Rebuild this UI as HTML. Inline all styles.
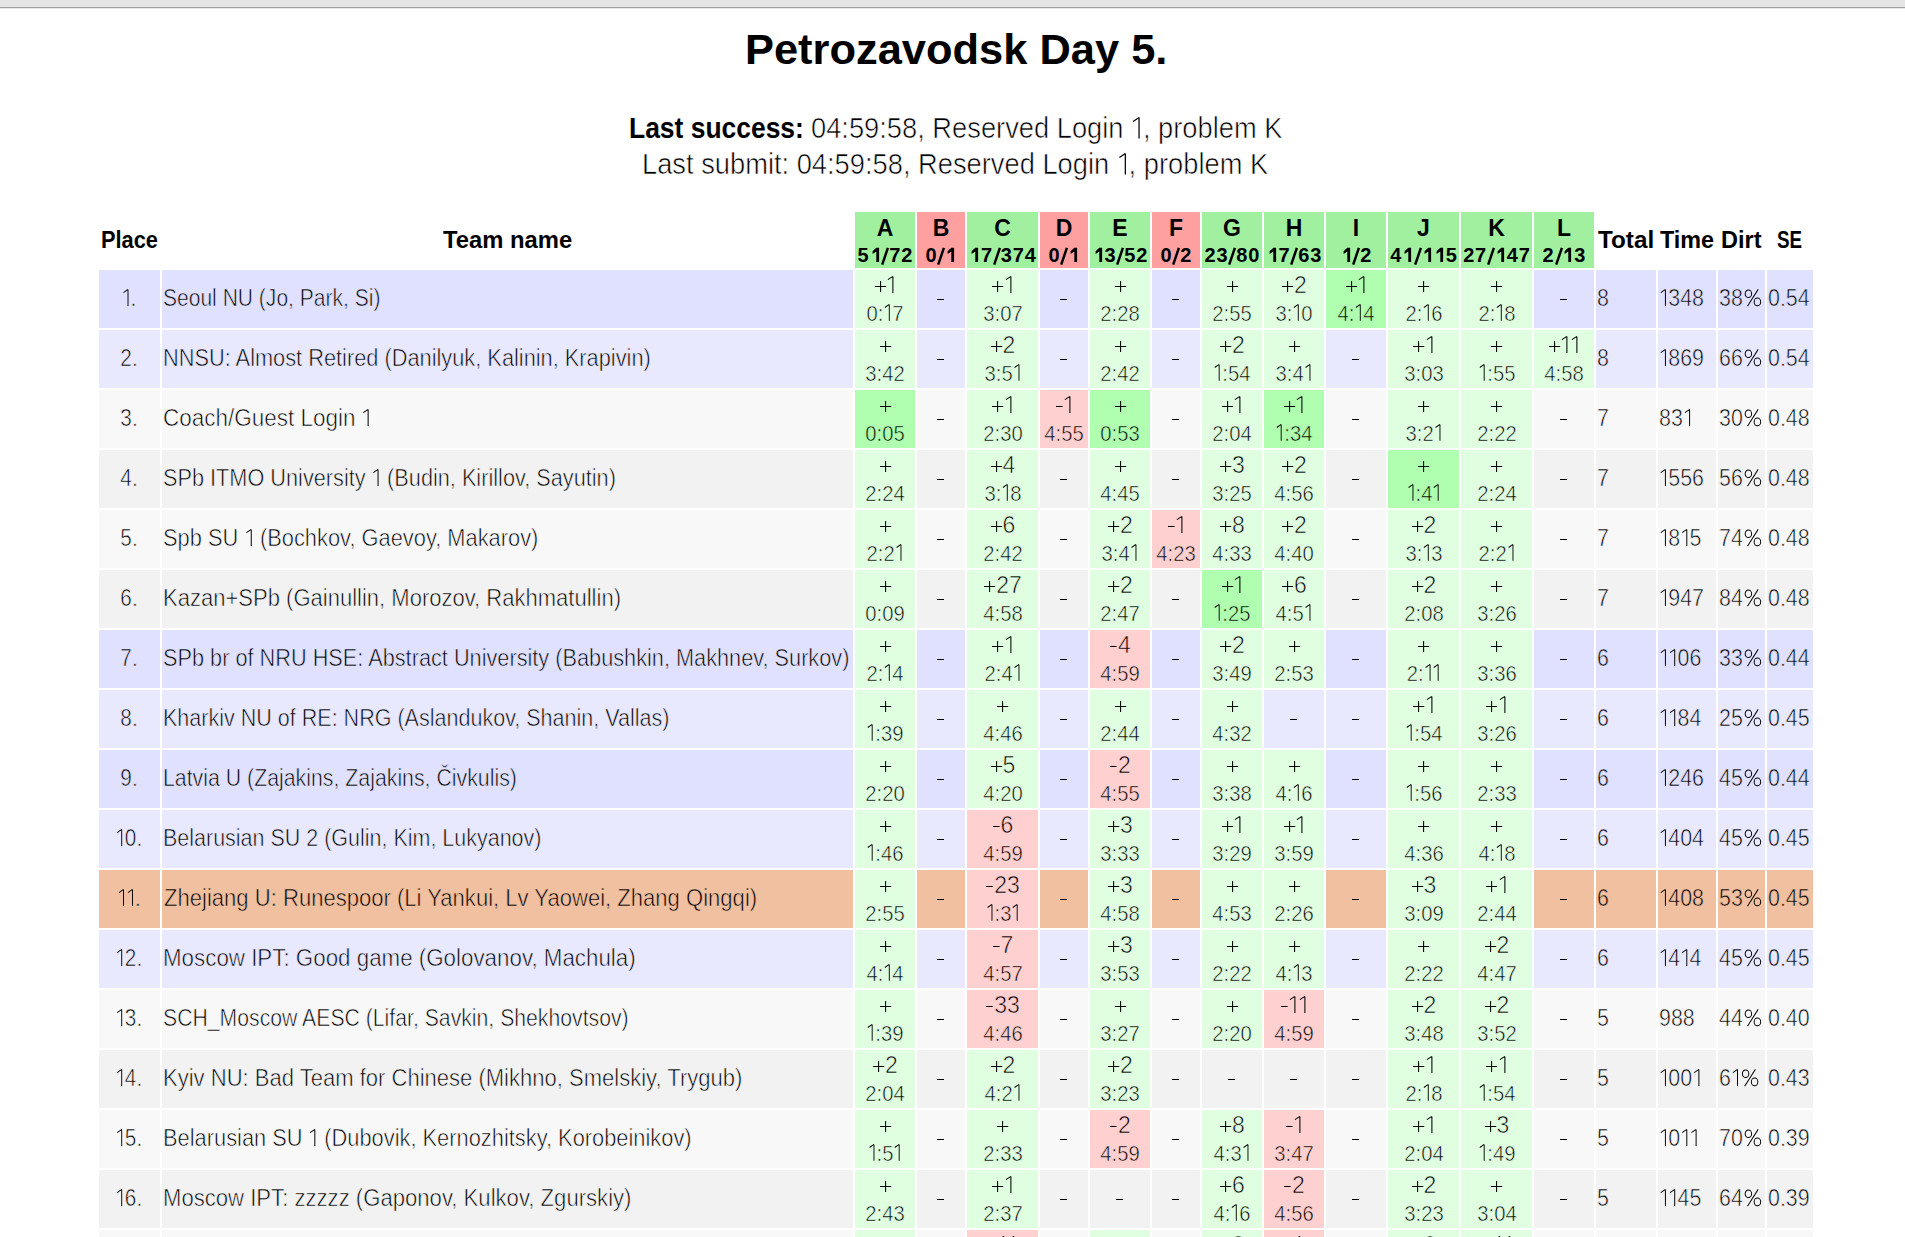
<!DOCTYPE html>
<html><head><meta charset="utf-8"><style>
html,body{margin:0;padding:0;background:#fff;width:1905px;height:1237px;overflow:hidden;position:relative}
body{font-family:"Liberation Sans",sans-serif;color:#000}
.topbar{position:absolute;left:0;top:0;width:1905px;height:6px;background:#e4e4e4}
.topbar2{position:absolute;left:0;top:6px;width:1905px;height:1px;background:#e8e8e8}
.topline{position:absolute;left:0;top:7px;width:1905px;height:1px;background:#a0a0a0}
.topline2{position:absolute;left:0;top:8px;width:1905px;height:1px;background:#e8e8e8}
.b{position:absolute}
.t{position:absolute;white-space:pre}
.t svg{overflow:visible}
.t svg path,.t svg ellipse{stroke:#000;stroke-width:1.05;fill:none}
.t svg path.f{stroke:none;fill:#000}
</style></head><body>
<div class="topbar"></div><div class="topbar2"></div><div class="topline"></div><div class="topline2"></div>
<div class="b" style="left:855px;top:212px;width:60px;height:56px;background:#a0f0a0"></div>
<div class="t" style="top:214.00px;font-size:23px;line-height:29px;font-weight:700;left:835.00px;width:100px;text-align:center;">A</div>
<div class="t" style="top:243.00px;font-size:20px;line-height:25px;font-weight:700;left:835.40px;width:100px;text-align:center;letter-spacing:0.8px;">5<svg width="11.9" height="15"><path class="f" d="M6.3 .8H9.1V15H6.3V4.6L2.6 6.9V4.3Z"/></svg><svg width="7.9" height="15"><path d="M1.2 17.6L6.9 .9" style="stroke-width:2.5"/></svg>72</div>
<div class="b" style="left:917px;top:212px;width:48px;height:56px;background:#ffa0a0"></div>
<div class="t" style="top:214.00px;font-size:23px;line-height:29px;font-weight:700;left:891.00px;width:100px;text-align:center;">B</div>
<div class="t" style="top:243.00px;font-size:20px;line-height:25px;font-weight:700;left:891.40px;width:100px;text-align:center;letter-spacing:0.8px;">0<svg width="7.9" height="15"><path d="M1.2 17.6L6.9 .9" style="stroke-width:2.5"/></svg><svg width="11.9" height="15"><path class="f" d="M6.3 .8H9.1V15H6.3V4.6L2.6 6.9V4.3Z"/></svg></div>
<div class="b" style="left:967px;top:212px;width:71px;height:56px;background:#a0f0a0"></div>
<div class="t" style="top:214.00px;font-size:23px;line-height:29px;font-weight:700;left:952.50px;width:100px;text-align:center;">C</div>
<div class="t" style="top:243.00px;font-size:20px;line-height:25px;font-weight:700;left:952.90px;width:100px;text-align:center;letter-spacing:0.8px;"><svg width="11.9" height="15"><path class="f" d="M6.3 .8H9.1V15H6.3V4.6L2.6 6.9V4.3Z"/></svg>7<svg width="7.9" height="15"><path d="M1.2 17.6L6.9 .9" style="stroke-width:2.5"/></svg>374</div>
<div class="b" style="left:1040px;top:212px;width:48px;height:56px;background:#ffa0a0"></div>
<div class="t" style="top:214.00px;font-size:23px;line-height:29px;font-weight:700;left:1014.00px;width:100px;text-align:center;">D</div>
<div class="t" style="top:243.00px;font-size:20px;line-height:25px;font-weight:700;left:1014.40px;width:100px;text-align:center;letter-spacing:0.8px;">0<svg width="7.9" height="15"><path d="M1.2 17.6L6.9 .9" style="stroke-width:2.5"/></svg><svg width="11.9" height="15"><path class="f" d="M6.3 .8H9.1V15H6.3V4.6L2.6 6.9V4.3Z"/></svg></div>
<div class="b" style="left:1090px;top:212px;width:60px;height:56px;background:#a0f0a0"></div>
<div class="t" style="top:214.00px;font-size:23px;line-height:29px;font-weight:700;left:1070.00px;width:100px;text-align:center;">E</div>
<div class="t" style="top:243.00px;font-size:20px;line-height:25px;font-weight:700;left:1070.40px;width:100px;text-align:center;letter-spacing:0.8px;"><svg width="11.9" height="15"><path class="f" d="M6.3 .8H9.1V15H6.3V4.6L2.6 6.9V4.3Z"/></svg>3<svg width="7.9" height="15"><path d="M1.2 17.6L6.9 .9" style="stroke-width:2.5"/></svg>52</div>
<div class="b" style="left:1152px;top:212px;width:48px;height:56px;background:#ffa0a0"></div>
<div class="t" style="top:214.00px;font-size:23px;line-height:29px;font-weight:700;left:1126.00px;width:100px;text-align:center;">F</div>
<div class="t" style="top:243.00px;font-size:20px;line-height:25px;font-weight:700;left:1126.40px;width:100px;text-align:center;letter-spacing:0.8px;">0<svg width="7.9" height="15"><path d="M1.2 17.6L6.9 .9" style="stroke-width:2.5"/></svg>2</div>
<div class="b" style="left:1202px;top:212px;width:60px;height:56px;background:#a0f0a0"></div>
<div class="t" style="top:214.00px;font-size:23px;line-height:29px;font-weight:700;left:1182.00px;width:100px;text-align:center;">G</div>
<div class="t" style="top:243.00px;font-size:20px;line-height:25px;font-weight:700;left:1182.40px;width:100px;text-align:center;letter-spacing:0.8px;">23<svg width="7.9" height="15"><path d="M1.2 17.6L6.9 .9" style="stroke-width:2.5"/></svg>80</div>
<div class="b" style="left:1264px;top:212px;width:60px;height:56px;background:#a0f0a0"></div>
<div class="t" style="top:214.00px;font-size:23px;line-height:29px;font-weight:700;left:1244.00px;width:100px;text-align:center;">H</div>
<div class="t" style="top:243.00px;font-size:20px;line-height:25px;font-weight:700;left:1244.40px;width:100px;text-align:center;letter-spacing:0.8px;"><svg width="11.9" height="15"><path class="f" d="M6.3 .8H9.1V15H6.3V4.6L2.6 6.9V4.3Z"/></svg>7<svg width="7.9" height="15"><path d="M1.2 17.6L6.9 .9" style="stroke-width:2.5"/></svg>63</div>
<div class="b" style="left:1326px;top:212px;width:60px;height:56px;background:#a0f0a0"></div>
<div class="t" style="top:214.00px;font-size:23px;line-height:29px;font-weight:700;left:1306.00px;width:100px;text-align:center;">I</div>
<div class="t" style="top:243.00px;font-size:20px;line-height:25px;font-weight:700;left:1306.40px;width:100px;text-align:center;letter-spacing:0.8px;"><svg width="11.9" height="15"><path class="f" d="M6.3 .8H9.1V15H6.3V4.6L2.6 6.9V4.3Z"/></svg><svg width="7.9" height="15"><path d="M1.2 17.6L6.9 .9" style="stroke-width:2.5"/></svg>2</div>
<div class="b" style="left:1388px;top:212px;width:71px;height:56px;background:#a0f0a0"></div>
<div class="t" style="top:214.00px;font-size:23px;line-height:29px;font-weight:700;left:1373.50px;width:100px;text-align:center;">J</div>
<div class="t" style="top:243.00px;font-size:20px;line-height:25px;font-weight:700;left:1373.90px;width:100px;text-align:center;letter-spacing:0.8px;">4<svg width="11.9" height="15"><path class="f" d="M6.3 .8H9.1V15H6.3V4.6L2.6 6.9V4.3Z"/></svg><svg width="7.9" height="15"><path d="M1.2 17.6L6.9 .9" style="stroke-width:2.5"/></svg><svg width="11.9" height="15"><path class="f" d="M6.3 .8H9.1V15H6.3V4.6L2.6 6.9V4.3Z"/></svg><svg width="11.9" height="15"><path class="f" d="M6.3 .8H9.1V15H6.3V4.6L2.6 6.9V4.3Z"/></svg>5</div>
<div class="b" style="left:1461px;top:212px;width:71px;height:56px;background:#a0f0a0"></div>
<div class="t" style="top:214.00px;font-size:23px;line-height:29px;font-weight:700;left:1446.50px;width:100px;text-align:center;">K</div>
<div class="t" style="top:243.00px;font-size:20px;line-height:25px;font-weight:700;left:1446.90px;width:100px;text-align:center;letter-spacing:0.8px;">27<svg width="7.9" height="15"><path d="M1.2 17.6L6.9 .9" style="stroke-width:2.5"/></svg><svg width="11.9" height="15"><path class="f" d="M6.3 .8H9.1V15H6.3V4.6L2.6 6.9V4.3Z"/></svg>47</div>
<div class="b" style="left:1534px;top:212px;width:60px;height:56px;background:#a0f0a0"></div>
<div class="t" style="top:214.00px;font-size:23px;line-height:29px;font-weight:700;left:1514.00px;width:100px;text-align:center;">L</div>
<div class="t" style="top:243.00px;font-size:20px;line-height:25px;font-weight:700;left:1514.40px;width:100px;text-align:center;letter-spacing:0.8px;">2<svg width="7.9" height="15"><path d="M1.2 17.6L6.9 .9" style="stroke-width:2.5"/></svg><svg width="11.9" height="15"><path class="f" d="M6.3 .8H9.1V15H6.3V4.6L2.6 6.9V4.3Z"/></svg>3</div>
<div class="b" style="left:99px;top:270px;width:61px;height:58px;background:#e0e0ff"></div>
<div class="b" style="left:162px;top:270px;width:691px;height:58px;background:#e0e0ff"></div>
<div class="b" style="left:1596px;top:270px;width:60px;height:58px;background:#e0e0ff"></div>
<div class="b" style="left:1658px;top:270px;width:58px;height:58px;background:#e0e0ff"></div>
<div class="b" style="left:1718px;top:270px;width:47px;height:58px;background:#e0e0ff"></div>
<div class="b" style="left:1767px;top:270px;width:46px;height:58px;background:#e0e0ff"></div>
<div class="t" style="top:284.00px;font-size:23px;line-height:29px;-webkit-text-stroke:0.6px #e0e0ff;left:78.70px;width:100px;text-align:center;transform:scaleX(0.9000);transform-origin:50% 0;"><svg style="width:.4348em;height:.7391em" viewBox="0 0 10 17"><path d="M6.9 .4V17M6.9 .4L1.9 3.6"/></svg>.</div>
<div class="b" style="left:855px;top:270px;width:60px;height:58px;background:#e0ffe0"></div>
<div class="t" style="top:271.00px;font-size:23px;line-height:29px;-webkit-text-stroke:0.6px #e0ffe0;left:845.00px;width:80px;text-align:center;"><svg style="width:.5652em;height:.7391em" viewBox="0 0 13 17"><path d="M1 10.5H12.2M6.6 5V16"/></svg><svg style="width:.4348em;height:.7391em" viewBox="0 0 10 17"><path d="M6.9 .4V17M6.9 .4L1.9 3.6"/></svg></div>
<div class="t" style="top:300.00px;font-size:22.5px;line-height:28px;-webkit-text-stroke:0.6px #e0ffe0;left:845.00px;width:80px;text-align:center;transform:scaleX(0.9000);transform-origin:50% 0;">0:<svg style="width:.4348em;height:.7391em" viewBox="0 0 10 17"><path d="M6.9 .4V17M6.9 .4L1.9 3.6"/></svg>7</div>
<div class="b" style="left:917px;top:270px;width:48px;height:58px;background:#e0e0ff"></div>
<div class="b" style="left:937px;top:299px;width:7px;height:1px;background:#000"></div>
<div class="b" style="left:967px;top:270px;width:71px;height:58px;background:#e0ffe0"></div>
<div class="t" style="top:271.00px;font-size:23px;line-height:29px;-webkit-text-stroke:0.6px #e0ffe0;left:962.50px;width:80px;text-align:center;"><svg style="width:.5652em;height:.7391em" viewBox="0 0 13 17"><path d="M1 10.5H12.2M6.6 5V16"/></svg><svg style="width:.4348em;height:.7391em" viewBox="0 0 10 17"><path d="M6.9 .4V17M6.9 .4L1.9 3.6"/></svg></div>
<div class="t" style="top:300.00px;font-size:22.5px;line-height:28px;-webkit-text-stroke:0.6px #e0ffe0;left:962.50px;width:80px;text-align:center;transform:scaleX(0.9000);transform-origin:50% 0;">3:07</div>
<div class="b" style="left:1040px;top:270px;width:48px;height:58px;background:#e0e0ff"></div>
<div class="b" style="left:1060px;top:299px;width:7px;height:1px;background:#000"></div>
<div class="b" style="left:1090px;top:270px;width:60px;height:58px;background:#e0ffe0"></div>
<div class="t" style="top:271.00px;font-size:23px;line-height:29px;-webkit-text-stroke:0.6px #e0ffe0;left:1080.00px;width:80px;text-align:center;"><svg style="width:.5652em;height:.7391em" viewBox="0 0 13 17"><path d="M1 10.5H12.2M6.6 5V16"/></svg></div>
<div class="t" style="top:300.00px;font-size:22.5px;line-height:28px;-webkit-text-stroke:0.6px #e0ffe0;left:1080.00px;width:80px;text-align:center;transform:scaleX(0.9000);transform-origin:50% 0;">2:28</div>
<div class="b" style="left:1152px;top:270px;width:48px;height:58px;background:#e0e0ff"></div>
<div class="b" style="left:1172px;top:299px;width:7px;height:1px;background:#000"></div>
<div class="b" style="left:1202px;top:270px;width:60px;height:58px;background:#e0ffe0"></div>
<div class="t" style="top:271.00px;font-size:23px;line-height:29px;-webkit-text-stroke:0.6px #e0ffe0;left:1192.00px;width:80px;text-align:center;"><svg style="width:.5652em;height:.7391em" viewBox="0 0 13 17"><path d="M1 10.5H12.2M6.6 5V16"/></svg></div>
<div class="t" style="top:300.00px;font-size:22.5px;line-height:28px;-webkit-text-stroke:0.6px #e0ffe0;left:1192.00px;width:80px;text-align:center;transform:scaleX(0.9000);transform-origin:50% 0;">2:55</div>
<div class="b" style="left:1264px;top:270px;width:60px;height:58px;background:#e0ffe0"></div>
<div class="t" style="top:271.00px;font-size:23px;line-height:29px;-webkit-text-stroke:0.6px #e0ffe0;left:1254.00px;width:80px;text-align:center;"><svg style="width:.5652em;height:.7391em" viewBox="0 0 13 17"><path d="M1 10.5H12.2M6.6 5V16"/></svg>2</div>
<div class="t" style="top:300.00px;font-size:22.5px;line-height:28px;-webkit-text-stroke:0.6px #e0ffe0;left:1254.00px;width:80px;text-align:center;transform:scaleX(0.9000);transform-origin:50% 0;">3:<svg style="width:.4348em;height:.7391em" viewBox="0 0 10 17"><path d="M6.9 .4V17M6.9 .4L1.9 3.6"/></svg>0</div>
<div class="b" style="left:1326px;top:270px;width:60px;height:58px;background:#b0ffb0"></div>
<div class="t" style="top:271.00px;font-size:23px;line-height:29px;-webkit-text-stroke:0.6px #b0ffb0;left:1316.00px;width:80px;text-align:center;"><svg style="width:.5652em;height:.7391em" viewBox="0 0 13 17"><path d="M1 10.5H12.2M6.6 5V16"/></svg><svg style="width:.4348em;height:.7391em" viewBox="0 0 10 17"><path d="M6.9 .4V17M6.9 .4L1.9 3.6"/></svg></div>
<div class="t" style="top:300.00px;font-size:22.5px;line-height:28px;-webkit-text-stroke:0.6px #b0ffb0;left:1316.00px;width:80px;text-align:center;transform:scaleX(0.9000);transform-origin:50% 0;">4:<svg style="width:.4348em;height:.7391em" viewBox="0 0 10 17"><path d="M6.9 .4V17M6.9 .4L1.9 3.6"/></svg>4</div>
<div class="b" style="left:1388px;top:270px;width:71px;height:58px;background:#e0ffe0"></div>
<div class="t" style="top:271.00px;font-size:23px;line-height:29px;-webkit-text-stroke:0.6px #e0ffe0;left:1383.50px;width:80px;text-align:center;"><svg style="width:.5652em;height:.7391em" viewBox="0 0 13 17"><path d="M1 10.5H12.2M6.6 5V16"/></svg></div>
<div class="t" style="top:300.00px;font-size:22.5px;line-height:28px;-webkit-text-stroke:0.6px #e0ffe0;left:1383.50px;width:80px;text-align:center;transform:scaleX(0.9000);transform-origin:50% 0;">2:<svg style="width:.4348em;height:.7391em" viewBox="0 0 10 17"><path d="M6.9 .4V17M6.9 .4L1.9 3.6"/></svg>6</div>
<div class="b" style="left:1461px;top:270px;width:71px;height:58px;background:#e0ffe0"></div>
<div class="t" style="top:271.00px;font-size:23px;line-height:29px;-webkit-text-stroke:0.6px #e0ffe0;left:1456.50px;width:80px;text-align:center;"><svg style="width:.5652em;height:.7391em" viewBox="0 0 13 17"><path d="M1 10.5H12.2M6.6 5V16"/></svg></div>
<div class="t" style="top:300.00px;font-size:22.5px;line-height:28px;-webkit-text-stroke:0.6px #e0ffe0;left:1456.50px;width:80px;text-align:center;transform:scaleX(0.9000);transform-origin:50% 0;">2:<svg style="width:.4348em;height:.7391em" viewBox="0 0 10 17"><path d="M6.9 .4V17M6.9 .4L1.9 3.6"/></svg>8</div>
<div class="b" style="left:1534px;top:270px;width:60px;height:58px;background:#e0e0ff"></div>
<div class="b" style="left:1560px;top:299px;width:7px;height:1px;background:#000"></div>
<div class="t" style="top:284.00px;font-size:23px;line-height:29px;-webkit-text-stroke:0.6px #e0e0ff;left:1597.00px;transform:scaleX(0.9300);transform-origin:0 0;">8</div>
<div class="t" style="top:284.00px;font-size:23px;line-height:29px;-webkit-text-stroke:0.6px #e0e0ff;left:1659.00px;transform:scaleX(0.9300);transform-origin:0 0;"><svg style="width:.4348em;height:.7391em" viewBox="0 0 10 17"><path d="M6.9 .4V17M6.9 .4L1.9 3.6"/></svg>348</div>
<div class="t" style="top:284.00px;font-size:23px;line-height:29px;-webkit-text-stroke:0.6px #e0e0ff;left:1719.00px;transform:scaleX(0.9300);transform-origin:0 0;">38<svg style="width:.913em;height:.7565em" viewBox="0 0 21 17.4"><ellipse cx="5.6" cy="4.8" rx="3.5" ry="3.8"/><ellipse cx="15.3" cy="12.9" rx="3.5" ry="3.8"/><path d="M4.6 17.2L16.1 .4"/></svg></div>
<div class="t" style="top:284.00px;font-size:23px;line-height:29px;-webkit-text-stroke:0.6px #e0e0ff;left:1768.00px;transform:scaleX(0.9300);transform-origin:0 0;">0.54</div>
<div class="b" style="left:99px;top:330px;width:61px;height:58px;background:#e8e8ff"></div>
<div class="b" style="left:162px;top:330px;width:691px;height:58px;background:#e8e8ff"></div>
<div class="b" style="left:1596px;top:330px;width:60px;height:58px;background:#e8e8ff"></div>
<div class="b" style="left:1658px;top:330px;width:58px;height:58px;background:#e8e8ff"></div>
<div class="b" style="left:1718px;top:330px;width:47px;height:58px;background:#e8e8ff"></div>
<div class="b" style="left:1767px;top:330px;width:46px;height:58px;background:#e8e8ff"></div>
<div class="t" style="top:344.00px;font-size:23px;line-height:29px;-webkit-text-stroke:0.6px #e8e8ff;left:78.70px;width:100px;text-align:center;transform:scaleX(0.9000);transform-origin:50% 0;">2.</div>
<div class="b" style="left:855px;top:330px;width:60px;height:58px;background:#e0ffe0"></div>
<div class="t" style="top:331.00px;font-size:23px;line-height:29px;-webkit-text-stroke:0.6px #e0ffe0;left:845.00px;width:80px;text-align:center;"><svg style="width:.5652em;height:.7391em" viewBox="0 0 13 17"><path d="M1 10.5H12.2M6.6 5V16"/></svg></div>
<div class="t" style="top:360.00px;font-size:22.5px;line-height:28px;-webkit-text-stroke:0.6px #e0ffe0;left:845.00px;width:80px;text-align:center;transform:scaleX(0.9000);transform-origin:50% 0;">3:42</div>
<div class="b" style="left:917px;top:330px;width:48px;height:58px;background:#e8e8ff"></div>
<div class="b" style="left:937px;top:359px;width:7px;height:1px;background:#000"></div>
<div class="b" style="left:967px;top:330px;width:71px;height:58px;background:#e0ffe0"></div>
<div class="t" style="top:331.00px;font-size:23px;line-height:29px;-webkit-text-stroke:0.6px #e0ffe0;left:962.50px;width:80px;text-align:center;"><svg style="width:.5652em;height:.7391em" viewBox="0 0 13 17"><path d="M1 10.5H12.2M6.6 5V16"/></svg>2</div>
<div class="t" style="top:360.00px;font-size:22.5px;line-height:28px;-webkit-text-stroke:0.6px #e0ffe0;left:962.50px;width:80px;text-align:center;transform:scaleX(0.9000);transform-origin:50% 0;">3:5<svg style="width:.4348em;height:.7391em" viewBox="0 0 10 17"><path d="M6.9 .4V17M6.9 .4L1.9 3.6"/></svg></div>
<div class="b" style="left:1040px;top:330px;width:48px;height:58px;background:#e8e8ff"></div>
<div class="b" style="left:1060px;top:359px;width:7px;height:1px;background:#000"></div>
<div class="b" style="left:1090px;top:330px;width:60px;height:58px;background:#e0ffe0"></div>
<div class="t" style="top:331.00px;font-size:23px;line-height:29px;-webkit-text-stroke:0.6px #e0ffe0;left:1080.00px;width:80px;text-align:center;"><svg style="width:.5652em;height:.7391em" viewBox="0 0 13 17"><path d="M1 10.5H12.2M6.6 5V16"/></svg></div>
<div class="t" style="top:360.00px;font-size:22.5px;line-height:28px;-webkit-text-stroke:0.6px #e0ffe0;left:1080.00px;width:80px;text-align:center;transform:scaleX(0.9000);transform-origin:50% 0;">2:42</div>
<div class="b" style="left:1152px;top:330px;width:48px;height:58px;background:#e8e8ff"></div>
<div class="b" style="left:1172px;top:359px;width:7px;height:1px;background:#000"></div>
<div class="b" style="left:1202px;top:330px;width:60px;height:58px;background:#e0ffe0"></div>
<div class="t" style="top:331.00px;font-size:23px;line-height:29px;-webkit-text-stroke:0.6px #e0ffe0;left:1192.00px;width:80px;text-align:center;"><svg style="width:.5652em;height:.7391em" viewBox="0 0 13 17"><path d="M1 10.5H12.2M6.6 5V16"/></svg>2</div>
<div class="t" style="top:360.00px;font-size:22.5px;line-height:28px;-webkit-text-stroke:0.6px #e0ffe0;left:1192.00px;width:80px;text-align:center;transform:scaleX(0.9000);transform-origin:50% 0;"><svg style="width:.4348em;height:.7391em" viewBox="0 0 10 17"><path d="M6.9 .4V17M6.9 .4L1.9 3.6"/></svg>:54</div>
<div class="b" style="left:1264px;top:330px;width:60px;height:58px;background:#e0ffe0"></div>
<div class="t" style="top:331.00px;font-size:23px;line-height:29px;-webkit-text-stroke:0.6px #e0ffe0;left:1254.00px;width:80px;text-align:center;"><svg style="width:.5652em;height:.7391em" viewBox="0 0 13 17"><path d="M1 10.5H12.2M6.6 5V16"/></svg></div>
<div class="t" style="top:360.00px;font-size:22.5px;line-height:28px;-webkit-text-stroke:0.6px #e0ffe0;left:1254.00px;width:80px;text-align:center;transform:scaleX(0.9000);transform-origin:50% 0;">3:4<svg style="width:.4348em;height:.7391em" viewBox="0 0 10 17"><path d="M6.9 .4V17M6.9 .4L1.9 3.6"/></svg></div>
<div class="b" style="left:1326px;top:330px;width:60px;height:58px;background:#e8e8ff"></div>
<div class="b" style="left:1352px;top:359px;width:7px;height:1px;background:#000"></div>
<div class="b" style="left:1388px;top:330px;width:71px;height:58px;background:#e0ffe0"></div>
<div class="t" style="top:331.00px;font-size:23px;line-height:29px;-webkit-text-stroke:0.6px #e0ffe0;left:1383.50px;width:80px;text-align:center;"><svg style="width:.5652em;height:.7391em" viewBox="0 0 13 17"><path d="M1 10.5H12.2M6.6 5V16"/></svg><svg style="width:.4348em;height:.7391em" viewBox="0 0 10 17"><path d="M6.9 .4V17M6.9 .4L1.9 3.6"/></svg></div>
<div class="t" style="top:360.00px;font-size:22.5px;line-height:28px;-webkit-text-stroke:0.6px #e0ffe0;left:1383.50px;width:80px;text-align:center;transform:scaleX(0.9000);transform-origin:50% 0;">3:03</div>
<div class="b" style="left:1461px;top:330px;width:71px;height:58px;background:#e0ffe0"></div>
<div class="t" style="top:331.00px;font-size:23px;line-height:29px;-webkit-text-stroke:0.6px #e0ffe0;left:1456.50px;width:80px;text-align:center;"><svg style="width:.5652em;height:.7391em" viewBox="0 0 13 17"><path d="M1 10.5H12.2M6.6 5V16"/></svg></div>
<div class="t" style="top:360.00px;font-size:22.5px;line-height:28px;-webkit-text-stroke:0.6px #e0ffe0;left:1456.50px;width:80px;text-align:center;transform:scaleX(0.9000);transform-origin:50% 0;"><svg style="width:.4348em;height:.7391em" viewBox="0 0 10 17"><path d="M6.9 .4V17M6.9 .4L1.9 3.6"/></svg>:55</div>
<div class="b" style="left:1534px;top:330px;width:60px;height:58px;background:#e0ffe0"></div>
<div class="t" style="top:331.00px;font-size:23px;line-height:29px;-webkit-text-stroke:0.6px #e0ffe0;left:1524.00px;width:80px;text-align:center;"><svg style="width:.5652em;height:.7391em" viewBox="0 0 13 17"><path d="M1 10.5H12.2M6.6 5V16"/></svg><svg style="width:.4348em;height:.7391em" viewBox="0 0 10 17"><path d="M6.9 .4V17M6.9 .4L1.9 3.6"/></svg><svg style="width:.4348em;height:.7391em" viewBox="0 0 10 17"><path d="M6.9 .4V17M6.9 .4L1.9 3.6"/></svg></div>
<div class="t" style="top:360.00px;font-size:22.5px;line-height:28px;-webkit-text-stroke:0.6px #e0ffe0;left:1524.00px;width:80px;text-align:center;transform:scaleX(0.9000);transform-origin:50% 0;">4:58</div>
<div class="t" style="top:344.00px;font-size:23px;line-height:29px;-webkit-text-stroke:0.6px #e8e8ff;left:1597.00px;transform:scaleX(0.9300);transform-origin:0 0;">8</div>
<div class="t" style="top:344.00px;font-size:23px;line-height:29px;-webkit-text-stroke:0.6px #e8e8ff;left:1659.00px;transform:scaleX(0.9300);transform-origin:0 0;"><svg style="width:.4348em;height:.7391em" viewBox="0 0 10 17"><path d="M6.9 .4V17M6.9 .4L1.9 3.6"/></svg>869</div>
<div class="t" style="top:344.00px;font-size:23px;line-height:29px;-webkit-text-stroke:0.6px #e8e8ff;left:1719.00px;transform:scaleX(0.9300);transform-origin:0 0;">66<svg style="width:.913em;height:.7565em" viewBox="0 0 21 17.4"><ellipse cx="5.6" cy="4.8" rx="3.5" ry="3.8"/><ellipse cx="15.3" cy="12.9" rx="3.5" ry="3.8"/><path d="M4.6 17.2L16.1 .4"/></svg></div>
<div class="t" style="top:344.00px;font-size:23px;line-height:29px;-webkit-text-stroke:0.6px #e8e8ff;left:1768.00px;transform:scaleX(0.9300);transform-origin:0 0;">0.54</div>
<div class="b" style="left:99px;top:390px;width:61px;height:58px;background:#f8f8f8"></div>
<div class="b" style="left:162px;top:390px;width:691px;height:58px;background:#f8f8f8"></div>
<div class="b" style="left:1596px;top:390px;width:60px;height:58px;background:#f8f8f8"></div>
<div class="b" style="left:1658px;top:390px;width:58px;height:58px;background:#f8f8f8"></div>
<div class="b" style="left:1718px;top:390px;width:47px;height:58px;background:#f8f8f8"></div>
<div class="b" style="left:1767px;top:390px;width:46px;height:58px;background:#f8f8f8"></div>
<div class="t" style="top:404.00px;font-size:23px;line-height:29px;-webkit-text-stroke:0.6px #f8f8f8;left:78.70px;width:100px;text-align:center;transform:scaleX(0.9000);transform-origin:50% 0;">3.</div>
<div class="b" style="left:855px;top:390px;width:60px;height:58px;background:#b0ffb0"></div>
<div class="t" style="top:391.00px;font-size:23px;line-height:29px;-webkit-text-stroke:0.6px #b0ffb0;left:845.00px;width:80px;text-align:center;"><svg style="width:.5652em;height:.7391em" viewBox="0 0 13 17"><path d="M1 10.5H12.2M6.6 5V16"/></svg></div>
<div class="t" style="top:420.00px;font-size:22.5px;line-height:28px;-webkit-text-stroke:0.6px #b0ffb0;left:845.00px;width:80px;text-align:center;transform:scaleX(0.9000);transform-origin:50% 0;">0:05</div>
<div class="b" style="left:917px;top:390px;width:48px;height:58px;background:#f8f8f8"></div>
<div class="b" style="left:937px;top:419px;width:7px;height:1px;background:#000"></div>
<div class="b" style="left:967px;top:390px;width:71px;height:58px;background:#e0ffe0"></div>
<div class="t" style="top:391.00px;font-size:23px;line-height:29px;-webkit-text-stroke:0.6px #e0ffe0;left:962.50px;width:80px;text-align:center;"><svg style="width:.5652em;height:.7391em" viewBox="0 0 13 17"><path d="M1 10.5H12.2M6.6 5V16"/></svg><svg style="width:.4348em;height:.7391em" viewBox="0 0 10 17"><path d="M6.9 .4V17M6.9 .4L1.9 3.6"/></svg></div>
<div class="t" style="top:420.00px;font-size:22.5px;line-height:28px;-webkit-text-stroke:0.6px #e0ffe0;left:962.50px;width:80px;text-align:center;transform:scaleX(0.9000);transform-origin:50% 0;">2:30</div>
<div class="b" style="left:1040px;top:390px;width:48px;height:58px;background:#ffd0d0"></div>
<div class="t" style="top:391.00px;font-size:23px;line-height:29px;-webkit-text-stroke:0.6px #ffd0d0;left:1024.00px;width:80px;text-align:center;"><svg style="width:.3913em;height:.7391em" viewBox="0 0 9 17"><path d="M1 10.5H7.6"/></svg><svg style="width:.4348em;height:.7391em" viewBox="0 0 10 17"><path d="M6.9 .4V17M6.9 .4L1.9 3.6"/></svg></div>
<div class="t" style="top:420.00px;font-size:22.5px;line-height:28px;-webkit-text-stroke:0.6px #ffd0d0;left:1024.00px;width:80px;text-align:center;transform:scaleX(0.9000);transform-origin:50% 0;">4:55</div>
<div class="b" style="left:1090px;top:390px;width:60px;height:58px;background:#b0ffb0"></div>
<div class="t" style="top:391.00px;font-size:23px;line-height:29px;-webkit-text-stroke:0.6px #b0ffb0;left:1080.00px;width:80px;text-align:center;"><svg style="width:.5652em;height:.7391em" viewBox="0 0 13 17"><path d="M1 10.5H12.2M6.6 5V16"/></svg></div>
<div class="t" style="top:420.00px;font-size:22.5px;line-height:28px;-webkit-text-stroke:0.6px #b0ffb0;left:1080.00px;width:80px;text-align:center;transform:scaleX(0.9000);transform-origin:50% 0;">0:53</div>
<div class="b" style="left:1152px;top:390px;width:48px;height:58px;background:#f8f8f8"></div>
<div class="b" style="left:1172px;top:419px;width:7px;height:1px;background:#000"></div>
<div class="b" style="left:1202px;top:390px;width:60px;height:58px;background:#e0ffe0"></div>
<div class="t" style="top:391.00px;font-size:23px;line-height:29px;-webkit-text-stroke:0.6px #e0ffe0;left:1192.00px;width:80px;text-align:center;"><svg style="width:.5652em;height:.7391em" viewBox="0 0 13 17"><path d="M1 10.5H12.2M6.6 5V16"/></svg><svg style="width:.4348em;height:.7391em" viewBox="0 0 10 17"><path d="M6.9 .4V17M6.9 .4L1.9 3.6"/></svg></div>
<div class="t" style="top:420.00px;font-size:22.5px;line-height:28px;-webkit-text-stroke:0.6px #e0ffe0;left:1192.00px;width:80px;text-align:center;transform:scaleX(0.9000);transform-origin:50% 0;">2:04</div>
<div class="b" style="left:1264px;top:390px;width:60px;height:58px;background:#b0ffb0"></div>
<div class="t" style="top:391.00px;font-size:23px;line-height:29px;-webkit-text-stroke:0.6px #b0ffb0;left:1254.00px;width:80px;text-align:center;"><svg style="width:.5652em;height:.7391em" viewBox="0 0 13 17"><path d="M1 10.5H12.2M6.6 5V16"/></svg><svg style="width:.4348em;height:.7391em" viewBox="0 0 10 17"><path d="M6.9 .4V17M6.9 .4L1.9 3.6"/></svg></div>
<div class="t" style="top:420.00px;font-size:22.5px;line-height:28px;-webkit-text-stroke:0.6px #b0ffb0;left:1254.00px;width:80px;text-align:center;transform:scaleX(0.9000);transform-origin:50% 0;"><svg style="width:.4348em;height:.7391em" viewBox="0 0 10 17"><path d="M6.9 .4V17M6.9 .4L1.9 3.6"/></svg>:34</div>
<div class="b" style="left:1326px;top:390px;width:60px;height:58px;background:#f8f8f8"></div>
<div class="b" style="left:1352px;top:419px;width:7px;height:1px;background:#000"></div>
<div class="b" style="left:1388px;top:390px;width:71px;height:58px;background:#e0ffe0"></div>
<div class="t" style="top:391.00px;font-size:23px;line-height:29px;-webkit-text-stroke:0.6px #e0ffe0;left:1383.50px;width:80px;text-align:center;"><svg style="width:.5652em;height:.7391em" viewBox="0 0 13 17"><path d="M1 10.5H12.2M6.6 5V16"/></svg></div>
<div class="t" style="top:420.00px;font-size:22.5px;line-height:28px;-webkit-text-stroke:0.6px #e0ffe0;left:1383.50px;width:80px;text-align:center;transform:scaleX(0.9000);transform-origin:50% 0;">3:2<svg style="width:.4348em;height:.7391em" viewBox="0 0 10 17"><path d="M6.9 .4V17M6.9 .4L1.9 3.6"/></svg></div>
<div class="b" style="left:1461px;top:390px;width:71px;height:58px;background:#e0ffe0"></div>
<div class="t" style="top:391.00px;font-size:23px;line-height:29px;-webkit-text-stroke:0.6px #e0ffe0;left:1456.50px;width:80px;text-align:center;"><svg style="width:.5652em;height:.7391em" viewBox="0 0 13 17"><path d="M1 10.5H12.2M6.6 5V16"/></svg></div>
<div class="t" style="top:420.00px;font-size:22.5px;line-height:28px;-webkit-text-stroke:0.6px #e0ffe0;left:1456.50px;width:80px;text-align:center;transform:scaleX(0.9000);transform-origin:50% 0;">2:22</div>
<div class="b" style="left:1534px;top:390px;width:60px;height:58px;background:#f8f8f8"></div>
<div class="b" style="left:1560px;top:419px;width:7px;height:1px;background:#000"></div>
<div class="t" style="top:404.00px;font-size:23px;line-height:29px;-webkit-text-stroke:0.6px #f8f8f8;left:1597.00px;transform:scaleX(0.9300);transform-origin:0 0;">7</div>
<div class="t" style="top:404.00px;font-size:23px;line-height:29px;-webkit-text-stroke:0.6px #f8f8f8;left:1659.00px;transform:scaleX(0.9300);transform-origin:0 0;">83<svg style="width:.4348em;height:.7391em" viewBox="0 0 10 17"><path d="M6.9 .4V17M6.9 .4L1.9 3.6"/></svg></div>
<div class="t" style="top:404.00px;font-size:23px;line-height:29px;-webkit-text-stroke:0.6px #f8f8f8;left:1719.00px;transform:scaleX(0.9300);transform-origin:0 0;">30<svg style="width:.913em;height:.7565em" viewBox="0 0 21 17.4"><ellipse cx="5.6" cy="4.8" rx="3.5" ry="3.8"/><ellipse cx="15.3" cy="12.9" rx="3.5" ry="3.8"/><path d="M4.6 17.2L16.1 .4"/></svg></div>
<div class="t" style="top:404.00px;font-size:23px;line-height:29px;-webkit-text-stroke:0.6px #f8f8f8;left:1768.00px;transform:scaleX(0.9300);transform-origin:0 0;">0.48</div>
<div class="b" style="left:99px;top:450px;width:61px;height:58px;background:#f2f2f2"></div>
<div class="b" style="left:162px;top:450px;width:691px;height:58px;background:#f2f2f2"></div>
<div class="b" style="left:1596px;top:450px;width:60px;height:58px;background:#f2f2f2"></div>
<div class="b" style="left:1658px;top:450px;width:58px;height:58px;background:#f2f2f2"></div>
<div class="b" style="left:1718px;top:450px;width:47px;height:58px;background:#f2f2f2"></div>
<div class="b" style="left:1767px;top:450px;width:46px;height:58px;background:#f2f2f2"></div>
<div class="t" style="top:464.00px;font-size:23px;line-height:29px;-webkit-text-stroke:0.6px #f2f2f2;left:78.70px;width:100px;text-align:center;transform:scaleX(0.9000);transform-origin:50% 0;">4.</div>
<div class="b" style="left:855px;top:450px;width:60px;height:58px;background:#e0ffe0"></div>
<div class="t" style="top:451.00px;font-size:23px;line-height:29px;-webkit-text-stroke:0.6px #e0ffe0;left:845.00px;width:80px;text-align:center;"><svg style="width:.5652em;height:.7391em" viewBox="0 0 13 17"><path d="M1 10.5H12.2M6.6 5V16"/></svg></div>
<div class="t" style="top:480.00px;font-size:22.5px;line-height:28px;-webkit-text-stroke:0.6px #e0ffe0;left:845.00px;width:80px;text-align:center;transform:scaleX(0.9000);transform-origin:50% 0;">2:24</div>
<div class="b" style="left:917px;top:450px;width:48px;height:58px;background:#f2f2f2"></div>
<div class="b" style="left:937px;top:479px;width:7px;height:1px;background:#000"></div>
<div class="b" style="left:967px;top:450px;width:71px;height:58px;background:#e0ffe0"></div>
<div class="t" style="top:451.00px;font-size:23px;line-height:29px;-webkit-text-stroke:0.6px #e0ffe0;left:962.50px;width:80px;text-align:center;"><svg style="width:.5652em;height:.7391em" viewBox="0 0 13 17"><path d="M1 10.5H12.2M6.6 5V16"/></svg>4</div>
<div class="t" style="top:480.00px;font-size:22.5px;line-height:28px;-webkit-text-stroke:0.6px #e0ffe0;left:962.50px;width:80px;text-align:center;transform:scaleX(0.9000);transform-origin:50% 0;">3:<svg style="width:.4348em;height:.7391em" viewBox="0 0 10 17"><path d="M6.9 .4V17M6.9 .4L1.9 3.6"/></svg>8</div>
<div class="b" style="left:1040px;top:450px;width:48px;height:58px;background:#f2f2f2"></div>
<div class="b" style="left:1060px;top:479px;width:7px;height:1px;background:#000"></div>
<div class="b" style="left:1090px;top:450px;width:60px;height:58px;background:#e0ffe0"></div>
<div class="t" style="top:451.00px;font-size:23px;line-height:29px;-webkit-text-stroke:0.6px #e0ffe0;left:1080.00px;width:80px;text-align:center;"><svg style="width:.5652em;height:.7391em" viewBox="0 0 13 17"><path d="M1 10.5H12.2M6.6 5V16"/></svg></div>
<div class="t" style="top:480.00px;font-size:22.5px;line-height:28px;-webkit-text-stroke:0.6px #e0ffe0;left:1080.00px;width:80px;text-align:center;transform:scaleX(0.9000);transform-origin:50% 0;">4:45</div>
<div class="b" style="left:1152px;top:450px;width:48px;height:58px;background:#f2f2f2"></div>
<div class="b" style="left:1172px;top:479px;width:7px;height:1px;background:#000"></div>
<div class="b" style="left:1202px;top:450px;width:60px;height:58px;background:#e0ffe0"></div>
<div class="t" style="top:451.00px;font-size:23px;line-height:29px;-webkit-text-stroke:0.6px #e0ffe0;left:1192.00px;width:80px;text-align:center;"><svg style="width:.5652em;height:.7391em" viewBox="0 0 13 17"><path d="M1 10.5H12.2M6.6 5V16"/></svg>3</div>
<div class="t" style="top:480.00px;font-size:22.5px;line-height:28px;-webkit-text-stroke:0.6px #e0ffe0;left:1192.00px;width:80px;text-align:center;transform:scaleX(0.9000);transform-origin:50% 0;">3:25</div>
<div class="b" style="left:1264px;top:450px;width:60px;height:58px;background:#e0ffe0"></div>
<div class="t" style="top:451.00px;font-size:23px;line-height:29px;-webkit-text-stroke:0.6px #e0ffe0;left:1254.00px;width:80px;text-align:center;"><svg style="width:.5652em;height:.7391em" viewBox="0 0 13 17"><path d="M1 10.5H12.2M6.6 5V16"/></svg>2</div>
<div class="t" style="top:480.00px;font-size:22.5px;line-height:28px;-webkit-text-stroke:0.6px #e0ffe0;left:1254.00px;width:80px;text-align:center;transform:scaleX(0.9000);transform-origin:50% 0;">4:56</div>
<div class="b" style="left:1326px;top:450px;width:60px;height:58px;background:#f2f2f2"></div>
<div class="b" style="left:1352px;top:479px;width:7px;height:1px;background:#000"></div>
<div class="b" style="left:1388px;top:450px;width:71px;height:58px;background:#b0ffb0"></div>
<div class="t" style="top:451.00px;font-size:23px;line-height:29px;-webkit-text-stroke:0.6px #b0ffb0;left:1383.50px;width:80px;text-align:center;"><svg style="width:.5652em;height:.7391em" viewBox="0 0 13 17"><path d="M1 10.5H12.2M6.6 5V16"/></svg></div>
<div class="t" style="top:480.00px;font-size:22.5px;line-height:28px;-webkit-text-stroke:0.6px #b0ffb0;left:1383.50px;width:80px;text-align:center;transform:scaleX(0.9000);transform-origin:50% 0;"><svg style="width:.4348em;height:.7391em" viewBox="0 0 10 17"><path d="M6.9 .4V17M6.9 .4L1.9 3.6"/></svg>:4<svg style="width:.4348em;height:.7391em" viewBox="0 0 10 17"><path d="M6.9 .4V17M6.9 .4L1.9 3.6"/></svg></div>
<div class="b" style="left:1461px;top:450px;width:71px;height:58px;background:#e0ffe0"></div>
<div class="t" style="top:451.00px;font-size:23px;line-height:29px;-webkit-text-stroke:0.6px #e0ffe0;left:1456.50px;width:80px;text-align:center;"><svg style="width:.5652em;height:.7391em" viewBox="0 0 13 17"><path d="M1 10.5H12.2M6.6 5V16"/></svg></div>
<div class="t" style="top:480.00px;font-size:22.5px;line-height:28px;-webkit-text-stroke:0.6px #e0ffe0;left:1456.50px;width:80px;text-align:center;transform:scaleX(0.9000);transform-origin:50% 0;">2:24</div>
<div class="b" style="left:1534px;top:450px;width:60px;height:58px;background:#f2f2f2"></div>
<div class="b" style="left:1560px;top:479px;width:7px;height:1px;background:#000"></div>
<div class="t" style="top:464.00px;font-size:23px;line-height:29px;-webkit-text-stroke:0.6px #f2f2f2;left:1597.00px;transform:scaleX(0.9300);transform-origin:0 0;">7</div>
<div class="t" style="top:464.00px;font-size:23px;line-height:29px;-webkit-text-stroke:0.6px #f2f2f2;left:1659.00px;transform:scaleX(0.9300);transform-origin:0 0;"><svg style="width:.4348em;height:.7391em" viewBox="0 0 10 17"><path d="M6.9 .4V17M6.9 .4L1.9 3.6"/></svg>556</div>
<div class="t" style="top:464.00px;font-size:23px;line-height:29px;-webkit-text-stroke:0.6px #f2f2f2;left:1719.00px;transform:scaleX(0.9300);transform-origin:0 0;">56<svg style="width:.913em;height:.7565em" viewBox="0 0 21 17.4"><ellipse cx="5.6" cy="4.8" rx="3.5" ry="3.8"/><ellipse cx="15.3" cy="12.9" rx="3.5" ry="3.8"/><path d="M4.6 17.2L16.1 .4"/></svg></div>
<div class="t" style="top:464.00px;font-size:23px;line-height:29px;-webkit-text-stroke:0.6px #f2f2f2;left:1768.00px;transform:scaleX(0.9300);transform-origin:0 0;">0.48</div>
<div class="b" style="left:99px;top:510px;width:61px;height:58px;background:#f8f8f8"></div>
<div class="b" style="left:162px;top:510px;width:691px;height:58px;background:#f8f8f8"></div>
<div class="b" style="left:1596px;top:510px;width:60px;height:58px;background:#f8f8f8"></div>
<div class="b" style="left:1658px;top:510px;width:58px;height:58px;background:#f8f8f8"></div>
<div class="b" style="left:1718px;top:510px;width:47px;height:58px;background:#f8f8f8"></div>
<div class="b" style="left:1767px;top:510px;width:46px;height:58px;background:#f8f8f8"></div>
<div class="t" style="top:524.00px;font-size:23px;line-height:29px;-webkit-text-stroke:0.6px #f8f8f8;left:78.70px;width:100px;text-align:center;transform:scaleX(0.9000);transform-origin:50% 0;">5.</div>
<div class="b" style="left:855px;top:510px;width:60px;height:58px;background:#e0ffe0"></div>
<div class="t" style="top:511.00px;font-size:23px;line-height:29px;-webkit-text-stroke:0.6px #e0ffe0;left:845.00px;width:80px;text-align:center;"><svg style="width:.5652em;height:.7391em" viewBox="0 0 13 17"><path d="M1 10.5H12.2M6.6 5V16"/></svg></div>
<div class="t" style="top:540.00px;font-size:22.5px;line-height:28px;-webkit-text-stroke:0.6px #e0ffe0;left:845.00px;width:80px;text-align:center;transform:scaleX(0.9000);transform-origin:50% 0;">2:2<svg style="width:.4348em;height:.7391em" viewBox="0 0 10 17"><path d="M6.9 .4V17M6.9 .4L1.9 3.6"/></svg></div>
<div class="b" style="left:917px;top:510px;width:48px;height:58px;background:#f8f8f8"></div>
<div class="b" style="left:937px;top:539px;width:7px;height:1px;background:#000"></div>
<div class="b" style="left:967px;top:510px;width:71px;height:58px;background:#e0ffe0"></div>
<div class="t" style="top:511.00px;font-size:23px;line-height:29px;-webkit-text-stroke:0.6px #e0ffe0;left:962.50px;width:80px;text-align:center;"><svg style="width:.5652em;height:.7391em" viewBox="0 0 13 17"><path d="M1 10.5H12.2M6.6 5V16"/></svg>6</div>
<div class="t" style="top:540.00px;font-size:22.5px;line-height:28px;-webkit-text-stroke:0.6px #e0ffe0;left:962.50px;width:80px;text-align:center;transform:scaleX(0.9000);transform-origin:50% 0;">2:42</div>
<div class="b" style="left:1040px;top:510px;width:48px;height:58px;background:#f8f8f8"></div>
<div class="b" style="left:1060px;top:539px;width:7px;height:1px;background:#000"></div>
<div class="b" style="left:1090px;top:510px;width:60px;height:58px;background:#e0ffe0"></div>
<div class="t" style="top:511.00px;font-size:23px;line-height:29px;-webkit-text-stroke:0.6px #e0ffe0;left:1080.00px;width:80px;text-align:center;"><svg style="width:.5652em;height:.7391em" viewBox="0 0 13 17"><path d="M1 10.5H12.2M6.6 5V16"/></svg>2</div>
<div class="t" style="top:540.00px;font-size:22.5px;line-height:28px;-webkit-text-stroke:0.6px #e0ffe0;left:1080.00px;width:80px;text-align:center;transform:scaleX(0.9000);transform-origin:50% 0;">3:4<svg style="width:.4348em;height:.7391em" viewBox="0 0 10 17"><path d="M6.9 .4V17M6.9 .4L1.9 3.6"/></svg></div>
<div class="b" style="left:1152px;top:510px;width:48px;height:58px;background:#ffd0d0"></div>
<div class="t" style="top:511.00px;font-size:23px;line-height:29px;-webkit-text-stroke:0.6px #ffd0d0;left:1136.00px;width:80px;text-align:center;"><svg style="width:.3913em;height:.7391em" viewBox="0 0 9 17"><path d="M1 10.5H7.6"/></svg><svg style="width:.4348em;height:.7391em" viewBox="0 0 10 17"><path d="M6.9 .4V17M6.9 .4L1.9 3.6"/></svg></div>
<div class="t" style="top:540.00px;font-size:22.5px;line-height:28px;-webkit-text-stroke:0.6px #ffd0d0;left:1136.00px;width:80px;text-align:center;transform:scaleX(0.9000);transform-origin:50% 0;">4:23</div>
<div class="b" style="left:1202px;top:510px;width:60px;height:58px;background:#e0ffe0"></div>
<div class="t" style="top:511.00px;font-size:23px;line-height:29px;-webkit-text-stroke:0.6px #e0ffe0;left:1192.00px;width:80px;text-align:center;"><svg style="width:.5652em;height:.7391em" viewBox="0 0 13 17"><path d="M1 10.5H12.2M6.6 5V16"/></svg>8</div>
<div class="t" style="top:540.00px;font-size:22.5px;line-height:28px;-webkit-text-stroke:0.6px #e0ffe0;left:1192.00px;width:80px;text-align:center;transform:scaleX(0.9000);transform-origin:50% 0;">4:33</div>
<div class="b" style="left:1264px;top:510px;width:60px;height:58px;background:#e0ffe0"></div>
<div class="t" style="top:511.00px;font-size:23px;line-height:29px;-webkit-text-stroke:0.6px #e0ffe0;left:1254.00px;width:80px;text-align:center;"><svg style="width:.5652em;height:.7391em" viewBox="0 0 13 17"><path d="M1 10.5H12.2M6.6 5V16"/></svg>2</div>
<div class="t" style="top:540.00px;font-size:22.5px;line-height:28px;-webkit-text-stroke:0.6px #e0ffe0;left:1254.00px;width:80px;text-align:center;transform:scaleX(0.9000);transform-origin:50% 0;">4:40</div>
<div class="b" style="left:1326px;top:510px;width:60px;height:58px;background:#f8f8f8"></div>
<div class="b" style="left:1352px;top:539px;width:7px;height:1px;background:#000"></div>
<div class="b" style="left:1388px;top:510px;width:71px;height:58px;background:#e0ffe0"></div>
<div class="t" style="top:511.00px;font-size:23px;line-height:29px;-webkit-text-stroke:0.6px #e0ffe0;left:1383.50px;width:80px;text-align:center;"><svg style="width:.5652em;height:.7391em" viewBox="0 0 13 17"><path d="M1 10.5H12.2M6.6 5V16"/></svg>2</div>
<div class="t" style="top:540.00px;font-size:22.5px;line-height:28px;-webkit-text-stroke:0.6px #e0ffe0;left:1383.50px;width:80px;text-align:center;transform:scaleX(0.9000);transform-origin:50% 0;">3:<svg style="width:.4348em;height:.7391em" viewBox="0 0 10 17"><path d="M6.9 .4V17M6.9 .4L1.9 3.6"/></svg>3</div>
<div class="b" style="left:1461px;top:510px;width:71px;height:58px;background:#e0ffe0"></div>
<div class="t" style="top:511.00px;font-size:23px;line-height:29px;-webkit-text-stroke:0.6px #e0ffe0;left:1456.50px;width:80px;text-align:center;"><svg style="width:.5652em;height:.7391em" viewBox="0 0 13 17"><path d="M1 10.5H12.2M6.6 5V16"/></svg></div>
<div class="t" style="top:540.00px;font-size:22.5px;line-height:28px;-webkit-text-stroke:0.6px #e0ffe0;left:1456.50px;width:80px;text-align:center;transform:scaleX(0.9000);transform-origin:50% 0;">2:2<svg style="width:.4348em;height:.7391em" viewBox="0 0 10 17"><path d="M6.9 .4V17M6.9 .4L1.9 3.6"/></svg></div>
<div class="b" style="left:1534px;top:510px;width:60px;height:58px;background:#f8f8f8"></div>
<div class="b" style="left:1560px;top:539px;width:7px;height:1px;background:#000"></div>
<div class="t" style="top:524.00px;font-size:23px;line-height:29px;-webkit-text-stroke:0.6px #f8f8f8;left:1597.00px;transform:scaleX(0.9300);transform-origin:0 0;">7</div>
<div class="t" style="top:524.00px;font-size:23px;line-height:29px;-webkit-text-stroke:0.6px #f8f8f8;left:1659.00px;transform:scaleX(0.9300);transform-origin:0 0;"><svg style="width:.4348em;height:.7391em" viewBox="0 0 10 17"><path d="M6.9 .4V17M6.9 .4L1.9 3.6"/></svg>8<svg style="width:.4348em;height:.7391em" viewBox="0 0 10 17"><path d="M6.9 .4V17M6.9 .4L1.9 3.6"/></svg>5</div>
<div class="t" style="top:524.00px;font-size:23px;line-height:29px;-webkit-text-stroke:0.6px #f8f8f8;left:1719.00px;transform:scaleX(0.9300);transform-origin:0 0;">74<svg style="width:.913em;height:.7565em" viewBox="0 0 21 17.4"><ellipse cx="5.6" cy="4.8" rx="3.5" ry="3.8"/><ellipse cx="15.3" cy="12.9" rx="3.5" ry="3.8"/><path d="M4.6 17.2L16.1 .4"/></svg></div>
<div class="t" style="top:524.00px;font-size:23px;line-height:29px;-webkit-text-stroke:0.6px #f8f8f8;left:1768.00px;transform:scaleX(0.9300);transform-origin:0 0;">0.48</div>
<div class="b" style="left:99px;top:570px;width:61px;height:58px;background:#f2f2f2"></div>
<div class="b" style="left:162px;top:570px;width:691px;height:58px;background:#f2f2f2"></div>
<div class="b" style="left:1596px;top:570px;width:60px;height:58px;background:#f2f2f2"></div>
<div class="b" style="left:1658px;top:570px;width:58px;height:58px;background:#f2f2f2"></div>
<div class="b" style="left:1718px;top:570px;width:47px;height:58px;background:#f2f2f2"></div>
<div class="b" style="left:1767px;top:570px;width:46px;height:58px;background:#f2f2f2"></div>
<div class="t" style="top:584.00px;font-size:23px;line-height:29px;-webkit-text-stroke:0.6px #f2f2f2;left:78.70px;width:100px;text-align:center;transform:scaleX(0.9000);transform-origin:50% 0;">6.</div>
<div class="b" style="left:855px;top:570px;width:60px;height:58px;background:#e0ffe0"></div>
<div class="t" style="top:571.00px;font-size:23px;line-height:29px;-webkit-text-stroke:0.6px #e0ffe0;left:845.00px;width:80px;text-align:center;"><svg style="width:.5652em;height:.7391em" viewBox="0 0 13 17"><path d="M1 10.5H12.2M6.6 5V16"/></svg></div>
<div class="t" style="top:600.00px;font-size:22.5px;line-height:28px;-webkit-text-stroke:0.6px #e0ffe0;left:845.00px;width:80px;text-align:center;transform:scaleX(0.9000);transform-origin:50% 0;">0:09</div>
<div class="b" style="left:917px;top:570px;width:48px;height:58px;background:#f2f2f2"></div>
<div class="b" style="left:937px;top:599px;width:7px;height:1px;background:#000"></div>
<div class="b" style="left:967px;top:570px;width:71px;height:58px;background:#e0ffe0"></div>
<div class="t" style="top:571.00px;font-size:23px;line-height:29px;-webkit-text-stroke:0.6px #e0ffe0;left:962.50px;width:80px;text-align:center;"><svg style="width:.5652em;height:.7391em" viewBox="0 0 13 17"><path d="M1 10.5H12.2M6.6 5V16"/></svg>27</div>
<div class="t" style="top:600.00px;font-size:22.5px;line-height:28px;-webkit-text-stroke:0.6px #e0ffe0;left:962.50px;width:80px;text-align:center;transform:scaleX(0.9000);transform-origin:50% 0;">4:58</div>
<div class="b" style="left:1040px;top:570px;width:48px;height:58px;background:#f2f2f2"></div>
<div class="b" style="left:1060px;top:599px;width:7px;height:1px;background:#000"></div>
<div class="b" style="left:1090px;top:570px;width:60px;height:58px;background:#e0ffe0"></div>
<div class="t" style="top:571.00px;font-size:23px;line-height:29px;-webkit-text-stroke:0.6px #e0ffe0;left:1080.00px;width:80px;text-align:center;"><svg style="width:.5652em;height:.7391em" viewBox="0 0 13 17"><path d="M1 10.5H12.2M6.6 5V16"/></svg>2</div>
<div class="t" style="top:600.00px;font-size:22.5px;line-height:28px;-webkit-text-stroke:0.6px #e0ffe0;left:1080.00px;width:80px;text-align:center;transform:scaleX(0.9000);transform-origin:50% 0;">2:47</div>
<div class="b" style="left:1152px;top:570px;width:48px;height:58px;background:#f2f2f2"></div>
<div class="b" style="left:1172px;top:599px;width:7px;height:1px;background:#000"></div>
<div class="b" style="left:1202px;top:570px;width:60px;height:58px;background:#b0ffb0"></div>
<div class="t" style="top:571.00px;font-size:23px;line-height:29px;-webkit-text-stroke:0.6px #b0ffb0;left:1192.00px;width:80px;text-align:center;"><svg style="width:.5652em;height:.7391em" viewBox="0 0 13 17"><path d="M1 10.5H12.2M6.6 5V16"/></svg><svg style="width:.4348em;height:.7391em" viewBox="0 0 10 17"><path d="M6.9 .4V17M6.9 .4L1.9 3.6"/></svg></div>
<div class="t" style="top:600.00px;font-size:22.5px;line-height:28px;-webkit-text-stroke:0.6px #b0ffb0;left:1192.00px;width:80px;text-align:center;transform:scaleX(0.9000);transform-origin:50% 0;"><svg style="width:.4348em;height:.7391em" viewBox="0 0 10 17"><path d="M6.9 .4V17M6.9 .4L1.9 3.6"/></svg>:25</div>
<div class="b" style="left:1264px;top:570px;width:60px;height:58px;background:#e0ffe0"></div>
<div class="t" style="top:571.00px;font-size:23px;line-height:29px;-webkit-text-stroke:0.6px #e0ffe0;left:1254.00px;width:80px;text-align:center;"><svg style="width:.5652em;height:.7391em" viewBox="0 0 13 17"><path d="M1 10.5H12.2M6.6 5V16"/></svg>6</div>
<div class="t" style="top:600.00px;font-size:22.5px;line-height:28px;-webkit-text-stroke:0.6px #e0ffe0;left:1254.00px;width:80px;text-align:center;transform:scaleX(0.9000);transform-origin:50% 0;">4:5<svg style="width:.4348em;height:.7391em" viewBox="0 0 10 17"><path d="M6.9 .4V17M6.9 .4L1.9 3.6"/></svg></div>
<div class="b" style="left:1326px;top:570px;width:60px;height:58px;background:#f2f2f2"></div>
<div class="b" style="left:1352px;top:599px;width:7px;height:1px;background:#000"></div>
<div class="b" style="left:1388px;top:570px;width:71px;height:58px;background:#e0ffe0"></div>
<div class="t" style="top:571.00px;font-size:23px;line-height:29px;-webkit-text-stroke:0.6px #e0ffe0;left:1383.50px;width:80px;text-align:center;"><svg style="width:.5652em;height:.7391em" viewBox="0 0 13 17"><path d="M1 10.5H12.2M6.6 5V16"/></svg>2</div>
<div class="t" style="top:600.00px;font-size:22.5px;line-height:28px;-webkit-text-stroke:0.6px #e0ffe0;left:1383.50px;width:80px;text-align:center;transform:scaleX(0.9000);transform-origin:50% 0;">2:08</div>
<div class="b" style="left:1461px;top:570px;width:71px;height:58px;background:#e0ffe0"></div>
<div class="t" style="top:571.00px;font-size:23px;line-height:29px;-webkit-text-stroke:0.6px #e0ffe0;left:1456.50px;width:80px;text-align:center;"><svg style="width:.5652em;height:.7391em" viewBox="0 0 13 17"><path d="M1 10.5H12.2M6.6 5V16"/></svg></div>
<div class="t" style="top:600.00px;font-size:22.5px;line-height:28px;-webkit-text-stroke:0.6px #e0ffe0;left:1456.50px;width:80px;text-align:center;transform:scaleX(0.9000);transform-origin:50% 0;">3:26</div>
<div class="b" style="left:1534px;top:570px;width:60px;height:58px;background:#f2f2f2"></div>
<div class="b" style="left:1560px;top:599px;width:7px;height:1px;background:#000"></div>
<div class="t" style="top:584.00px;font-size:23px;line-height:29px;-webkit-text-stroke:0.6px #f2f2f2;left:1597.00px;transform:scaleX(0.9300);transform-origin:0 0;">7</div>
<div class="t" style="top:584.00px;font-size:23px;line-height:29px;-webkit-text-stroke:0.6px #f2f2f2;left:1659.00px;transform:scaleX(0.9300);transform-origin:0 0;"><svg style="width:.4348em;height:.7391em" viewBox="0 0 10 17"><path d="M6.9 .4V17M6.9 .4L1.9 3.6"/></svg>947</div>
<div class="t" style="top:584.00px;font-size:23px;line-height:29px;-webkit-text-stroke:0.6px #f2f2f2;left:1719.00px;transform:scaleX(0.9300);transform-origin:0 0;">84<svg style="width:.913em;height:.7565em" viewBox="0 0 21 17.4"><ellipse cx="5.6" cy="4.8" rx="3.5" ry="3.8"/><ellipse cx="15.3" cy="12.9" rx="3.5" ry="3.8"/><path d="M4.6 17.2L16.1 .4"/></svg></div>
<div class="t" style="top:584.00px;font-size:23px;line-height:29px;-webkit-text-stroke:0.6px #f2f2f2;left:1768.00px;transform:scaleX(0.9300);transform-origin:0 0;">0.48</div>
<div class="b" style="left:99px;top:630px;width:61px;height:58px;background:#e0e0ff"></div>
<div class="b" style="left:162px;top:630px;width:691px;height:58px;background:#e0e0ff"></div>
<div class="b" style="left:1596px;top:630px;width:60px;height:58px;background:#e0e0ff"></div>
<div class="b" style="left:1658px;top:630px;width:58px;height:58px;background:#e0e0ff"></div>
<div class="b" style="left:1718px;top:630px;width:47px;height:58px;background:#e0e0ff"></div>
<div class="b" style="left:1767px;top:630px;width:46px;height:58px;background:#e0e0ff"></div>
<div class="t" style="top:644.00px;font-size:23px;line-height:29px;-webkit-text-stroke:0.6px #e0e0ff;left:78.70px;width:100px;text-align:center;transform:scaleX(0.9000);transform-origin:50% 0;">7.</div>
<div class="b" style="left:855px;top:630px;width:60px;height:58px;background:#e0ffe0"></div>
<div class="t" style="top:631.00px;font-size:23px;line-height:29px;-webkit-text-stroke:0.6px #e0ffe0;left:845.00px;width:80px;text-align:center;"><svg style="width:.5652em;height:.7391em" viewBox="0 0 13 17"><path d="M1 10.5H12.2M6.6 5V16"/></svg></div>
<div class="t" style="top:660.00px;font-size:22.5px;line-height:28px;-webkit-text-stroke:0.6px #e0ffe0;left:845.00px;width:80px;text-align:center;transform:scaleX(0.9000);transform-origin:50% 0;">2:<svg style="width:.4348em;height:.7391em" viewBox="0 0 10 17"><path d="M6.9 .4V17M6.9 .4L1.9 3.6"/></svg>4</div>
<div class="b" style="left:917px;top:630px;width:48px;height:58px;background:#e0e0ff"></div>
<div class="b" style="left:937px;top:659px;width:7px;height:1px;background:#000"></div>
<div class="b" style="left:967px;top:630px;width:71px;height:58px;background:#e0ffe0"></div>
<div class="t" style="top:631.00px;font-size:23px;line-height:29px;-webkit-text-stroke:0.6px #e0ffe0;left:962.50px;width:80px;text-align:center;"><svg style="width:.5652em;height:.7391em" viewBox="0 0 13 17"><path d="M1 10.5H12.2M6.6 5V16"/></svg><svg style="width:.4348em;height:.7391em" viewBox="0 0 10 17"><path d="M6.9 .4V17M6.9 .4L1.9 3.6"/></svg></div>
<div class="t" style="top:660.00px;font-size:22.5px;line-height:28px;-webkit-text-stroke:0.6px #e0ffe0;left:962.50px;width:80px;text-align:center;transform:scaleX(0.9000);transform-origin:50% 0;">2:4<svg style="width:.4348em;height:.7391em" viewBox="0 0 10 17"><path d="M6.9 .4V17M6.9 .4L1.9 3.6"/></svg></div>
<div class="b" style="left:1040px;top:630px;width:48px;height:58px;background:#e0e0ff"></div>
<div class="b" style="left:1060px;top:659px;width:7px;height:1px;background:#000"></div>
<div class="b" style="left:1090px;top:630px;width:60px;height:58px;background:#ffd0d0"></div>
<div class="t" style="top:631.00px;font-size:23px;line-height:29px;-webkit-text-stroke:0.6px #ffd0d0;left:1080.00px;width:80px;text-align:center;"><svg style="width:.3913em;height:.7391em" viewBox="0 0 9 17"><path d="M1 10.5H7.6"/></svg>4</div>
<div class="t" style="top:660.00px;font-size:22.5px;line-height:28px;-webkit-text-stroke:0.6px #ffd0d0;left:1080.00px;width:80px;text-align:center;transform:scaleX(0.9000);transform-origin:50% 0;">4:59</div>
<div class="b" style="left:1152px;top:630px;width:48px;height:58px;background:#e0e0ff"></div>
<div class="b" style="left:1172px;top:659px;width:7px;height:1px;background:#000"></div>
<div class="b" style="left:1202px;top:630px;width:60px;height:58px;background:#e0ffe0"></div>
<div class="t" style="top:631.00px;font-size:23px;line-height:29px;-webkit-text-stroke:0.6px #e0ffe0;left:1192.00px;width:80px;text-align:center;"><svg style="width:.5652em;height:.7391em" viewBox="0 0 13 17"><path d="M1 10.5H12.2M6.6 5V16"/></svg>2</div>
<div class="t" style="top:660.00px;font-size:22.5px;line-height:28px;-webkit-text-stroke:0.6px #e0ffe0;left:1192.00px;width:80px;text-align:center;transform:scaleX(0.9000);transform-origin:50% 0;">3:49</div>
<div class="b" style="left:1264px;top:630px;width:60px;height:58px;background:#e0ffe0"></div>
<div class="t" style="top:631.00px;font-size:23px;line-height:29px;-webkit-text-stroke:0.6px #e0ffe0;left:1254.00px;width:80px;text-align:center;"><svg style="width:.5652em;height:.7391em" viewBox="0 0 13 17"><path d="M1 10.5H12.2M6.6 5V16"/></svg></div>
<div class="t" style="top:660.00px;font-size:22.5px;line-height:28px;-webkit-text-stroke:0.6px #e0ffe0;left:1254.00px;width:80px;text-align:center;transform:scaleX(0.9000);transform-origin:50% 0;">2:53</div>
<div class="b" style="left:1326px;top:630px;width:60px;height:58px;background:#e0e0ff"></div>
<div class="b" style="left:1352px;top:659px;width:7px;height:1px;background:#000"></div>
<div class="b" style="left:1388px;top:630px;width:71px;height:58px;background:#e0ffe0"></div>
<div class="t" style="top:631.00px;font-size:23px;line-height:29px;-webkit-text-stroke:0.6px #e0ffe0;left:1383.50px;width:80px;text-align:center;"><svg style="width:.5652em;height:.7391em" viewBox="0 0 13 17"><path d="M1 10.5H12.2M6.6 5V16"/></svg></div>
<div class="t" style="top:660.00px;font-size:22.5px;line-height:28px;-webkit-text-stroke:0.6px #e0ffe0;left:1383.50px;width:80px;text-align:center;transform:scaleX(0.9000);transform-origin:50% 0;">2:<svg style="width:.4348em;height:.7391em" viewBox="0 0 10 17"><path d="M6.9 .4V17M6.9 .4L1.9 3.6"/></svg><svg style="width:.4348em;height:.7391em" viewBox="0 0 10 17"><path d="M6.9 .4V17M6.9 .4L1.9 3.6"/></svg></div>
<div class="b" style="left:1461px;top:630px;width:71px;height:58px;background:#e0ffe0"></div>
<div class="t" style="top:631.00px;font-size:23px;line-height:29px;-webkit-text-stroke:0.6px #e0ffe0;left:1456.50px;width:80px;text-align:center;"><svg style="width:.5652em;height:.7391em" viewBox="0 0 13 17"><path d="M1 10.5H12.2M6.6 5V16"/></svg></div>
<div class="t" style="top:660.00px;font-size:22.5px;line-height:28px;-webkit-text-stroke:0.6px #e0ffe0;left:1456.50px;width:80px;text-align:center;transform:scaleX(0.9000);transform-origin:50% 0;">3:36</div>
<div class="b" style="left:1534px;top:630px;width:60px;height:58px;background:#e0e0ff"></div>
<div class="b" style="left:1560px;top:659px;width:7px;height:1px;background:#000"></div>
<div class="t" style="top:644.00px;font-size:23px;line-height:29px;-webkit-text-stroke:0.6px #e0e0ff;left:1597.00px;transform:scaleX(0.9300);transform-origin:0 0;">6</div>
<div class="t" style="top:644.00px;font-size:23px;line-height:29px;-webkit-text-stroke:0.6px #e0e0ff;left:1659.00px;transform:scaleX(0.9300);transform-origin:0 0;"><svg style="width:.4348em;height:.7391em" viewBox="0 0 10 17"><path d="M6.9 .4V17M6.9 .4L1.9 3.6"/></svg><svg style="width:.4348em;height:.7391em" viewBox="0 0 10 17"><path d="M6.9 .4V17M6.9 .4L1.9 3.6"/></svg>06</div>
<div class="t" style="top:644.00px;font-size:23px;line-height:29px;-webkit-text-stroke:0.6px #e0e0ff;left:1719.00px;transform:scaleX(0.9300);transform-origin:0 0;">33<svg style="width:.913em;height:.7565em" viewBox="0 0 21 17.4"><ellipse cx="5.6" cy="4.8" rx="3.5" ry="3.8"/><ellipse cx="15.3" cy="12.9" rx="3.5" ry="3.8"/><path d="M4.6 17.2L16.1 .4"/></svg></div>
<div class="t" style="top:644.00px;font-size:23px;line-height:29px;-webkit-text-stroke:0.6px #e0e0ff;left:1768.00px;transform:scaleX(0.9300);transform-origin:0 0;">0.44</div>
<div class="b" style="left:99px;top:690px;width:61px;height:58px;background:#e8e8ff"></div>
<div class="b" style="left:162px;top:690px;width:691px;height:58px;background:#e8e8ff"></div>
<div class="b" style="left:1596px;top:690px;width:60px;height:58px;background:#e8e8ff"></div>
<div class="b" style="left:1658px;top:690px;width:58px;height:58px;background:#e8e8ff"></div>
<div class="b" style="left:1718px;top:690px;width:47px;height:58px;background:#e8e8ff"></div>
<div class="b" style="left:1767px;top:690px;width:46px;height:58px;background:#e8e8ff"></div>
<div class="t" style="top:704.00px;font-size:23px;line-height:29px;-webkit-text-stroke:0.6px #e8e8ff;left:78.70px;width:100px;text-align:center;transform:scaleX(0.9000);transform-origin:50% 0;">8.</div>
<div class="b" style="left:855px;top:690px;width:60px;height:58px;background:#e0ffe0"></div>
<div class="t" style="top:691.00px;font-size:23px;line-height:29px;-webkit-text-stroke:0.6px #e0ffe0;left:845.00px;width:80px;text-align:center;"><svg style="width:.5652em;height:.7391em" viewBox="0 0 13 17"><path d="M1 10.5H12.2M6.6 5V16"/></svg></div>
<div class="t" style="top:720.00px;font-size:22.5px;line-height:28px;-webkit-text-stroke:0.6px #e0ffe0;left:845.00px;width:80px;text-align:center;transform:scaleX(0.9000);transform-origin:50% 0;"><svg style="width:.4348em;height:.7391em" viewBox="0 0 10 17"><path d="M6.9 .4V17M6.9 .4L1.9 3.6"/></svg>:39</div>
<div class="b" style="left:917px;top:690px;width:48px;height:58px;background:#e8e8ff"></div>
<div class="b" style="left:937px;top:719px;width:7px;height:1px;background:#000"></div>
<div class="b" style="left:967px;top:690px;width:71px;height:58px;background:#e0ffe0"></div>
<div class="t" style="top:691.00px;font-size:23px;line-height:29px;-webkit-text-stroke:0.6px #e0ffe0;left:962.50px;width:80px;text-align:center;"><svg style="width:.5652em;height:.7391em" viewBox="0 0 13 17"><path d="M1 10.5H12.2M6.6 5V16"/></svg></div>
<div class="t" style="top:720.00px;font-size:22.5px;line-height:28px;-webkit-text-stroke:0.6px #e0ffe0;left:962.50px;width:80px;text-align:center;transform:scaleX(0.9000);transform-origin:50% 0;">4:46</div>
<div class="b" style="left:1040px;top:690px;width:48px;height:58px;background:#e8e8ff"></div>
<div class="b" style="left:1060px;top:719px;width:7px;height:1px;background:#000"></div>
<div class="b" style="left:1090px;top:690px;width:60px;height:58px;background:#e0ffe0"></div>
<div class="t" style="top:691.00px;font-size:23px;line-height:29px;-webkit-text-stroke:0.6px #e0ffe0;left:1080.00px;width:80px;text-align:center;"><svg style="width:.5652em;height:.7391em" viewBox="0 0 13 17"><path d="M1 10.5H12.2M6.6 5V16"/></svg></div>
<div class="t" style="top:720.00px;font-size:22.5px;line-height:28px;-webkit-text-stroke:0.6px #e0ffe0;left:1080.00px;width:80px;text-align:center;transform:scaleX(0.9000);transform-origin:50% 0;">2:44</div>
<div class="b" style="left:1152px;top:690px;width:48px;height:58px;background:#e8e8ff"></div>
<div class="b" style="left:1172px;top:719px;width:7px;height:1px;background:#000"></div>
<div class="b" style="left:1202px;top:690px;width:60px;height:58px;background:#e0ffe0"></div>
<div class="t" style="top:691.00px;font-size:23px;line-height:29px;-webkit-text-stroke:0.6px #e0ffe0;left:1192.00px;width:80px;text-align:center;"><svg style="width:.5652em;height:.7391em" viewBox="0 0 13 17"><path d="M1 10.5H12.2M6.6 5V16"/></svg></div>
<div class="t" style="top:720.00px;font-size:22.5px;line-height:28px;-webkit-text-stroke:0.6px #e0ffe0;left:1192.00px;width:80px;text-align:center;transform:scaleX(0.9000);transform-origin:50% 0;">4:32</div>
<div class="b" style="left:1264px;top:690px;width:60px;height:58px;background:#e8e8ff"></div>
<div class="b" style="left:1290px;top:719px;width:7px;height:1px;background:#000"></div>
<div class="b" style="left:1326px;top:690px;width:60px;height:58px;background:#e8e8ff"></div>
<div class="b" style="left:1352px;top:719px;width:7px;height:1px;background:#000"></div>
<div class="b" style="left:1388px;top:690px;width:71px;height:58px;background:#e0ffe0"></div>
<div class="t" style="top:691.00px;font-size:23px;line-height:29px;-webkit-text-stroke:0.6px #e0ffe0;left:1383.50px;width:80px;text-align:center;"><svg style="width:.5652em;height:.7391em" viewBox="0 0 13 17"><path d="M1 10.5H12.2M6.6 5V16"/></svg><svg style="width:.4348em;height:.7391em" viewBox="0 0 10 17"><path d="M6.9 .4V17M6.9 .4L1.9 3.6"/></svg></div>
<div class="t" style="top:720.00px;font-size:22.5px;line-height:28px;-webkit-text-stroke:0.6px #e0ffe0;left:1383.50px;width:80px;text-align:center;transform:scaleX(0.9000);transform-origin:50% 0;"><svg style="width:.4348em;height:.7391em" viewBox="0 0 10 17"><path d="M6.9 .4V17M6.9 .4L1.9 3.6"/></svg>:54</div>
<div class="b" style="left:1461px;top:690px;width:71px;height:58px;background:#e0ffe0"></div>
<div class="t" style="top:691.00px;font-size:23px;line-height:29px;-webkit-text-stroke:0.6px #e0ffe0;left:1456.50px;width:80px;text-align:center;"><svg style="width:.5652em;height:.7391em" viewBox="0 0 13 17"><path d="M1 10.5H12.2M6.6 5V16"/></svg><svg style="width:.4348em;height:.7391em" viewBox="0 0 10 17"><path d="M6.9 .4V17M6.9 .4L1.9 3.6"/></svg></div>
<div class="t" style="top:720.00px;font-size:22.5px;line-height:28px;-webkit-text-stroke:0.6px #e0ffe0;left:1456.50px;width:80px;text-align:center;transform:scaleX(0.9000);transform-origin:50% 0;">3:26</div>
<div class="b" style="left:1534px;top:690px;width:60px;height:58px;background:#e8e8ff"></div>
<div class="b" style="left:1560px;top:719px;width:7px;height:1px;background:#000"></div>
<div class="t" style="top:704.00px;font-size:23px;line-height:29px;-webkit-text-stroke:0.6px #e8e8ff;left:1597.00px;transform:scaleX(0.9300);transform-origin:0 0;">6</div>
<div class="t" style="top:704.00px;font-size:23px;line-height:29px;-webkit-text-stroke:0.6px #e8e8ff;left:1659.00px;transform:scaleX(0.9300);transform-origin:0 0;"><svg style="width:.4348em;height:.7391em" viewBox="0 0 10 17"><path d="M6.9 .4V17M6.9 .4L1.9 3.6"/></svg><svg style="width:.4348em;height:.7391em" viewBox="0 0 10 17"><path d="M6.9 .4V17M6.9 .4L1.9 3.6"/></svg>84</div>
<div class="t" style="top:704.00px;font-size:23px;line-height:29px;-webkit-text-stroke:0.6px #e8e8ff;left:1719.00px;transform:scaleX(0.9300);transform-origin:0 0;">25<svg style="width:.913em;height:.7565em" viewBox="0 0 21 17.4"><ellipse cx="5.6" cy="4.8" rx="3.5" ry="3.8"/><ellipse cx="15.3" cy="12.9" rx="3.5" ry="3.8"/><path d="M4.6 17.2L16.1 .4"/></svg></div>
<div class="t" style="top:704.00px;font-size:23px;line-height:29px;-webkit-text-stroke:0.6px #e8e8ff;left:1768.00px;transform:scaleX(0.9300);transform-origin:0 0;">0.45</div>
<div class="b" style="left:99px;top:750px;width:61px;height:58px;background:#e0e0ff"></div>
<div class="b" style="left:162px;top:750px;width:691px;height:58px;background:#e0e0ff"></div>
<div class="b" style="left:1596px;top:750px;width:60px;height:58px;background:#e0e0ff"></div>
<div class="b" style="left:1658px;top:750px;width:58px;height:58px;background:#e0e0ff"></div>
<div class="b" style="left:1718px;top:750px;width:47px;height:58px;background:#e0e0ff"></div>
<div class="b" style="left:1767px;top:750px;width:46px;height:58px;background:#e0e0ff"></div>
<div class="t" style="top:764.00px;font-size:23px;line-height:29px;-webkit-text-stroke:0.6px #e0e0ff;left:78.70px;width:100px;text-align:center;transform:scaleX(0.9000);transform-origin:50% 0;">9.</div>
<div class="b" style="left:855px;top:750px;width:60px;height:58px;background:#e0ffe0"></div>
<div class="t" style="top:751.00px;font-size:23px;line-height:29px;-webkit-text-stroke:0.6px #e0ffe0;left:845.00px;width:80px;text-align:center;"><svg style="width:.5652em;height:.7391em" viewBox="0 0 13 17"><path d="M1 10.5H12.2M6.6 5V16"/></svg></div>
<div class="t" style="top:780.00px;font-size:22.5px;line-height:28px;-webkit-text-stroke:0.6px #e0ffe0;left:845.00px;width:80px;text-align:center;transform:scaleX(0.9000);transform-origin:50% 0;">2:20</div>
<div class="b" style="left:917px;top:750px;width:48px;height:58px;background:#e0e0ff"></div>
<div class="b" style="left:937px;top:779px;width:7px;height:1px;background:#000"></div>
<div class="b" style="left:967px;top:750px;width:71px;height:58px;background:#e0ffe0"></div>
<div class="t" style="top:751.00px;font-size:23px;line-height:29px;-webkit-text-stroke:0.6px #e0ffe0;left:962.50px;width:80px;text-align:center;"><svg style="width:.5652em;height:.7391em" viewBox="0 0 13 17"><path d="M1 10.5H12.2M6.6 5V16"/></svg>5</div>
<div class="t" style="top:780.00px;font-size:22.5px;line-height:28px;-webkit-text-stroke:0.6px #e0ffe0;left:962.50px;width:80px;text-align:center;transform:scaleX(0.9000);transform-origin:50% 0;">4:20</div>
<div class="b" style="left:1040px;top:750px;width:48px;height:58px;background:#e0e0ff"></div>
<div class="b" style="left:1060px;top:779px;width:7px;height:1px;background:#000"></div>
<div class="b" style="left:1090px;top:750px;width:60px;height:58px;background:#ffd0d0"></div>
<div class="t" style="top:751.00px;font-size:23px;line-height:29px;-webkit-text-stroke:0.6px #ffd0d0;left:1080.00px;width:80px;text-align:center;"><svg style="width:.3913em;height:.7391em" viewBox="0 0 9 17"><path d="M1 10.5H7.6"/></svg>2</div>
<div class="t" style="top:780.00px;font-size:22.5px;line-height:28px;-webkit-text-stroke:0.6px #ffd0d0;left:1080.00px;width:80px;text-align:center;transform:scaleX(0.9000);transform-origin:50% 0;">4:55</div>
<div class="b" style="left:1152px;top:750px;width:48px;height:58px;background:#e0e0ff"></div>
<div class="b" style="left:1172px;top:779px;width:7px;height:1px;background:#000"></div>
<div class="b" style="left:1202px;top:750px;width:60px;height:58px;background:#e0ffe0"></div>
<div class="t" style="top:751.00px;font-size:23px;line-height:29px;-webkit-text-stroke:0.6px #e0ffe0;left:1192.00px;width:80px;text-align:center;"><svg style="width:.5652em;height:.7391em" viewBox="0 0 13 17"><path d="M1 10.5H12.2M6.6 5V16"/></svg></div>
<div class="t" style="top:780.00px;font-size:22.5px;line-height:28px;-webkit-text-stroke:0.6px #e0ffe0;left:1192.00px;width:80px;text-align:center;transform:scaleX(0.9000);transform-origin:50% 0;">3:38</div>
<div class="b" style="left:1264px;top:750px;width:60px;height:58px;background:#e0ffe0"></div>
<div class="t" style="top:751.00px;font-size:23px;line-height:29px;-webkit-text-stroke:0.6px #e0ffe0;left:1254.00px;width:80px;text-align:center;"><svg style="width:.5652em;height:.7391em" viewBox="0 0 13 17"><path d="M1 10.5H12.2M6.6 5V16"/></svg></div>
<div class="t" style="top:780.00px;font-size:22.5px;line-height:28px;-webkit-text-stroke:0.6px #e0ffe0;left:1254.00px;width:80px;text-align:center;transform:scaleX(0.9000);transform-origin:50% 0;">4:<svg style="width:.4348em;height:.7391em" viewBox="0 0 10 17"><path d="M6.9 .4V17M6.9 .4L1.9 3.6"/></svg>6</div>
<div class="b" style="left:1326px;top:750px;width:60px;height:58px;background:#e0e0ff"></div>
<div class="b" style="left:1352px;top:779px;width:7px;height:1px;background:#000"></div>
<div class="b" style="left:1388px;top:750px;width:71px;height:58px;background:#e0ffe0"></div>
<div class="t" style="top:751.00px;font-size:23px;line-height:29px;-webkit-text-stroke:0.6px #e0ffe0;left:1383.50px;width:80px;text-align:center;"><svg style="width:.5652em;height:.7391em" viewBox="0 0 13 17"><path d="M1 10.5H12.2M6.6 5V16"/></svg></div>
<div class="t" style="top:780.00px;font-size:22.5px;line-height:28px;-webkit-text-stroke:0.6px #e0ffe0;left:1383.50px;width:80px;text-align:center;transform:scaleX(0.9000);transform-origin:50% 0;"><svg style="width:.4348em;height:.7391em" viewBox="0 0 10 17"><path d="M6.9 .4V17M6.9 .4L1.9 3.6"/></svg>:56</div>
<div class="b" style="left:1461px;top:750px;width:71px;height:58px;background:#e0ffe0"></div>
<div class="t" style="top:751.00px;font-size:23px;line-height:29px;-webkit-text-stroke:0.6px #e0ffe0;left:1456.50px;width:80px;text-align:center;"><svg style="width:.5652em;height:.7391em" viewBox="0 0 13 17"><path d="M1 10.5H12.2M6.6 5V16"/></svg></div>
<div class="t" style="top:780.00px;font-size:22.5px;line-height:28px;-webkit-text-stroke:0.6px #e0ffe0;left:1456.50px;width:80px;text-align:center;transform:scaleX(0.9000);transform-origin:50% 0;">2:33</div>
<div class="b" style="left:1534px;top:750px;width:60px;height:58px;background:#e0e0ff"></div>
<div class="b" style="left:1560px;top:779px;width:7px;height:1px;background:#000"></div>
<div class="t" style="top:764.00px;font-size:23px;line-height:29px;-webkit-text-stroke:0.6px #e0e0ff;left:1597.00px;transform:scaleX(0.9300);transform-origin:0 0;">6</div>
<div class="t" style="top:764.00px;font-size:23px;line-height:29px;-webkit-text-stroke:0.6px #e0e0ff;left:1659.00px;transform:scaleX(0.9300);transform-origin:0 0;"><svg style="width:.4348em;height:.7391em" viewBox="0 0 10 17"><path d="M6.9 .4V17M6.9 .4L1.9 3.6"/></svg>246</div>
<div class="t" style="top:764.00px;font-size:23px;line-height:29px;-webkit-text-stroke:0.6px #e0e0ff;left:1719.00px;transform:scaleX(0.9300);transform-origin:0 0;">45<svg style="width:.913em;height:.7565em" viewBox="0 0 21 17.4"><ellipse cx="5.6" cy="4.8" rx="3.5" ry="3.8"/><ellipse cx="15.3" cy="12.9" rx="3.5" ry="3.8"/><path d="M4.6 17.2L16.1 .4"/></svg></div>
<div class="t" style="top:764.00px;font-size:23px;line-height:29px;-webkit-text-stroke:0.6px #e0e0ff;left:1768.00px;transform:scaleX(0.9300);transform-origin:0 0;">0.44</div>
<div class="b" style="left:99px;top:810px;width:61px;height:58px;background:#e8e8ff"></div>
<div class="b" style="left:162px;top:810px;width:691px;height:58px;background:#e8e8ff"></div>
<div class="b" style="left:1596px;top:810px;width:60px;height:58px;background:#e8e8ff"></div>
<div class="b" style="left:1658px;top:810px;width:58px;height:58px;background:#e8e8ff"></div>
<div class="b" style="left:1718px;top:810px;width:47px;height:58px;background:#e8e8ff"></div>
<div class="b" style="left:1767px;top:810px;width:46px;height:58px;background:#e8e8ff"></div>
<div class="t" style="top:824.00px;font-size:23px;line-height:29px;-webkit-text-stroke:0.6px #e8e8ff;left:78.70px;width:100px;text-align:center;transform:scaleX(0.9000);transform-origin:50% 0;"><svg style="width:.4348em;height:.7391em" viewBox="0 0 10 17"><path d="M6.9 .4V17M6.9 .4L1.9 3.6"/></svg>0.</div>
<div class="b" style="left:855px;top:810px;width:60px;height:58px;background:#e0ffe0"></div>
<div class="t" style="top:811.00px;font-size:23px;line-height:29px;-webkit-text-stroke:0.6px #e0ffe0;left:845.00px;width:80px;text-align:center;"><svg style="width:.5652em;height:.7391em" viewBox="0 0 13 17"><path d="M1 10.5H12.2M6.6 5V16"/></svg></div>
<div class="t" style="top:840.00px;font-size:22.5px;line-height:28px;-webkit-text-stroke:0.6px #e0ffe0;left:845.00px;width:80px;text-align:center;transform:scaleX(0.9000);transform-origin:50% 0;"><svg style="width:.4348em;height:.7391em" viewBox="0 0 10 17"><path d="M6.9 .4V17M6.9 .4L1.9 3.6"/></svg>:46</div>
<div class="b" style="left:917px;top:810px;width:48px;height:58px;background:#e8e8ff"></div>
<div class="b" style="left:937px;top:839px;width:7px;height:1px;background:#000"></div>
<div class="b" style="left:967px;top:810px;width:71px;height:58px;background:#ffd0d0"></div>
<div class="t" style="top:811.00px;font-size:23px;line-height:29px;-webkit-text-stroke:0.6px #ffd0d0;left:962.50px;width:80px;text-align:center;"><svg style="width:.3913em;height:.7391em" viewBox="0 0 9 17"><path d="M1 10.5H7.6"/></svg>6</div>
<div class="t" style="top:840.00px;font-size:22.5px;line-height:28px;-webkit-text-stroke:0.6px #ffd0d0;left:962.50px;width:80px;text-align:center;transform:scaleX(0.9000);transform-origin:50% 0;">4:59</div>
<div class="b" style="left:1040px;top:810px;width:48px;height:58px;background:#e8e8ff"></div>
<div class="b" style="left:1060px;top:839px;width:7px;height:1px;background:#000"></div>
<div class="b" style="left:1090px;top:810px;width:60px;height:58px;background:#e0ffe0"></div>
<div class="t" style="top:811.00px;font-size:23px;line-height:29px;-webkit-text-stroke:0.6px #e0ffe0;left:1080.00px;width:80px;text-align:center;"><svg style="width:.5652em;height:.7391em" viewBox="0 0 13 17"><path d="M1 10.5H12.2M6.6 5V16"/></svg>3</div>
<div class="t" style="top:840.00px;font-size:22.5px;line-height:28px;-webkit-text-stroke:0.6px #e0ffe0;left:1080.00px;width:80px;text-align:center;transform:scaleX(0.9000);transform-origin:50% 0;">3:33</div>
<div class="b" style="left:1152px;top:810px;width:48px;height:58px;background:#e8e8ff"></div>
<div class="b" style="left:1172px;top:839px;width:7px;height:1px;background:#000"></div>
<div class="b" style="left:1202px;top:810px;width:60px;height:58px;background:#e0ffe0"></div>
<div class="t" style="top:811.00px;font-size:23px;line-height:29px;-webkit-text-stroke:0.6px #e0ffe0;left:1192.00px;width:80px;text-align:center;"><svg style="width:.5652em;height:.7391em" viewBox="0 0 13 17"><path d="M1 10.5H12.2M6.6 5V16"/></svg><svg style="width:.4348em;height:.7391em" viewBox="0 0 10 17"><path d="M6.9 .4V17M6.9 .4L1.9 3.6"/></svg></div>
<div class="t" style="top:840.00px;font-size:22.5px;line-height:28px;-webkit-text-stroke:0.6px #e0ffe0;left:1192.00px;width:80px;text-align:center;transform:scaleX(0.9000);transform-origin:50% 0;">3:29</div>
<div class="b" style="left:1264px;top:810px;width:60px;height:58px;background:#e0ffe0"></div>
<div class="t" style="top:811.00px;font-size:23px;line-height:29px;-webkit-text-stroke:0.6px #e0ffe0;left:1254.00px;width:80px;text-align:center;"><svg style="width:.5652em;height:.7391em" viewBox="0 0 13 17"><path d="M1 10.5H12.2M6.6 5V16"/></svg><svg style="width:.4348em;height:.7391em" viewBox="0 0 10 17"><path d="M6.9 .4V17M6.9 .4L1.9 3.6"/></svg></div>
<div class="t" style="top:840.00px;font-size:22.5px;line-height:28px;-webkit-text-stroke:0.6px #e0ffe0;left:1254.00px;width:80px;text-align:center;transform:scaleX(0.9000);transform-origin:50% 0;">3:59</div>
<div class="b" style="left:1326px;top:810px;width:60px;height:58px;background:#e8e8ff"></div>
<div class="b" style="left:1352px;top:839px;width:7px;height:1px;background:#000"></div>
<div class="b" style="left:1388px;top:810px;width:71px;height:58px;background:#e0ffe0"></div>
<div class="t" style="top:811.00px;font-size:23px;line-height:29px;-webkit-text-stroke:0.6px #e0ffe0;left:1383.50px;width:80px;text-align:center;"><svg style="width:.5652em;height:.7391em" viewBox="0 0 13 17"><path d="M1 10.5H12.2M6.6 5V16"/></svg></div>
<div class="t" style="top:840.00px;font-size:22.5px;line-height:28px;-webkit-text-stroke:0.6px #e0ffe0;left:1383.50px;width:80px;text-align:center;transform:scaleX(0.9000);transform-origin:50% 0;">4:36</div>
<div class="b" style="left:1461px;top:810px;width:71px;height:58px;background:#e0ffe0"></div>
<div class="t" style="top:811.00px;font-size:23px;line-height:29px;-webkit-text-stroke:0.6px #e0ffe0;left:1456.50px;width:80px;text-align:center;"><svg style="width:.5652em;height:.7391em" viewBox="0 0 13 17"><path d="M1 10.5H12.2M6.6 5V16"/></svg></div>
<div class="t" style="top:840.00px;font-size:22.5px;line-height:28px;-webkit-text-stroke:0.6px #e0ffe0;left:1456.50px;width:80px;text-align:center;transform:scaleX(0.9000);transform-origin:50% 0;">4:<svg style="width:.4348em;height:.7391em" viewBox="0 0 10 17"><path d="M6.9 .4V17M6.9 .4L1.9 3.6"/></svg>8</div>
<div class="b" style="left:1534px;top:810px;width:60px;height:58px;background:#e8e8ff"></div>
<div class="b" style="left:1560px;top:839px;width:7px;height:1px;background:#000"></div>
<div class="t" style="top:824.00px;font-size:23px;line-height:29px;-webkit-text-stroke:0.6px #e8e8ff;left:1597.00px;transform:scaleX(0.9300);transform-origin:0 0;">6</div>
<div class="t" style="top:824.00px;font-size:23px;line-height:29px;-webkit-text-stroke:0.6px #e8e8ff;left:1659.00px;transform:scaleX(0.9300);transform-origin:0 0;"><svg style="width:.4348em;height:.7391em" viewBox="0 0 10 17"><path d="M6.9 .4V17M6.9 .4L1.9 3.6"/></svg>404</div>
<div class="t" style="top:824.00px;font-size:23px;line-height:29px;-webkit-text-stroke:0.6px #e8e8ff;left:1719.00px;transform:scaleX(0.9300);transform-origin:0 0;">45<svg style="width:.913em;height:.7565em" viewBox="0 0 21 17.4"><ellipse cx="5.6" cy="4.8" rx="3.5" ry="3.8"/><ellipse cx="15.3" cy="12.9" rx="3.5" ry="3.8"/><path d="M4.6 17.2L16.1 .4"/></svg></div>
<div class="t" style="top:824.00px;font-size:23px;line-height:29px;-webkit-text-stroke:0.6px #e8e8ff;left:1768.00px;transform:scaleX(0.9300);transform-origin:0 0;">0.45</div>
<div class="b" style="left:99px;top:870px;width:61px;height:58px;background:#f0c0a0"></div>
<div class="b" style="left:162px;top:870px;width:691px;height:58px;background:#f0c0a0"></div>
<div class="b" style="left:1596px;top:870px;width:60px;height:58px;background:#f0c0a0"></div>
<div class="b" style="left:1658px;top:870px;width:58px;height:58px;background:#f0c0a0"></div>
<div class="b" style="left:1718px;top:870px;width:47px;height:58px;background:#f0c0a0"></div>
<div class="b" style="left:1767px;top:870px;width:46px;height:58px;background:#f0c0a0"></div>
<div class="t" style="top:884.00px;font-size:23px;line-height:29px;-webkit-text-stroke:0.6px #f0c0a0;left:78.70px;width:100px;text-align:center;transform:scaleX(0.9000);transform-origin:50% 0;"><svg style="width:.4348em;height:.7391em" viewBox="0 0 10 17"><path d="M6.9 .4V17M6.9 .4L1.9 3.6"/></svg><svg style="width:.4348em;height:.7391em" viewBox="0 0 10 17"><path d="M6.9 .4V17M6.9 .4L1.9 3.6"/></svg>.</div>
<div class="b" style="left:855px;top:870px;width:60px;height:58px;background:#e0ffe0"></div>
<div class="t" style="top:871.00px;font-size:23px;line-height:29px;-webkit-text-stroke:0.6px #e0ffe0;left:845.00px;width:80px;text-align:center;"><svg style="width:.5652em;height:.7391em" viewBox="0 0 13 17"><path d="M1 10.5H12.2M6.6 5V16"/></svg></div>
<div class="t" style="top:900.00px;font-size:22.5px;line-height:28px;-webkit-text-stroke:0.6px #e0ffe0;left:845.00px;width:80px;text-align:center;transform:scaleX(0.9000);transform-origin:50% 0;">2:55</div>
<div class="b" style="left:917px;top:870px;width:48px;height:58px;background:#f0c0a0"></div>
<div class="b" style="left:937px;top:899px;width:7px;height:1px;background:#000"></div>
<div class="b" style="left:967px;top:870px;width:71px;height:58px;background:#ffd0d0"></div>
<div class="t" style="top:871.00px;font-size:23px;line-height:29px;-webkit-text-stroke:0.6px #ffd0d0;left:962.50px;width:80px;text-align:center;"><svg style="width:.3913em;height:.7391em" viewBox="0 0 9 17"><path d="M1 10.5H7.6"/></svg>23</div>
<div class="t" style="top:900.00px;font-size:22.5px;line-height:28px;-webkit-text-stroke:0.6px #ffd0d0;left:962.50px;width:80px;text-align:center;transform:scaleX(0.9000);transform-origin:50% 0;"><svg style="width:.4348em;height:.7391em" viewBox="0 0 10 17"><path d="M6.9 .4V17M6.9 .4L1.9 3.6"/></svg>:3<svg style="width:.4348em;height:.7391em" viewBox="0 0 10 17"><path d="M6.9 .4V17M6.9 .4L1.9 3.6"/></svg></div>
<div class="b" style="left:1040px;top:870px;width:48px;height:58px;background:#f0c0a0"></div>
<div class="b" style="left:1060px;top:899px;width:7px;height:1px;background:#000"></div>
<div class="b" style="left:1090px;top:870px;width:60px;height:58px;background:#e0ffe0"></div>
<div class="t" style="top:871.00px;font-size:23px;line-height:29px;-webkit-text-stroke:0.6px #e0ffe0;left:1080.00px;width:80px;text-align:center;"><svg style="width:.5652em;height:.7391em" viewBox="0 0 13 17"><path d="M1 10.5H12.2M6.6 5V16"/></svg>3</div>
<div class="t" style="top:900.00px;font-size:22.5px;line-height:28px;-webkit-text-stroke:0.6px #e0ffe0;left:1080.00px;width:80px;text-align:center;transform:scaleX(0.9000);transform-origin:50% 0;">4:58</div>
<div class="b" style="left:1152px;top:870px;width:48px;height:58px;background:#f0c0a0"></div>
<div class="b" style="left:1172px;top:899px;width:7px;height:1px;background:#000"></div>
<div class="b" style="left:1202px;top:870px;width:60px;height:58px;background:#e0ffe0"></div>
<div class="t" style="top:871.00px;font-size:23px;line-height:29px;-webkit-text-stroke:0.6px #e0ffe0;left:1192.00px;width:80px;text-align:center;"><svg style="width:.5652em;height:.7391em" viewBox="0 0 13 17"><path d="M1 10.5H12.2M6.6 5V16"/></svg></div>
<div class="t" style="top:900.00px;font-size:22.5px;line-height:28px;-webkit-text-stroke:0.6px #e0ffe0;left:1192.00px;width:80px;text-align:center;transform:scaleX(0.9000);transform-origin:50% 0;">4:53</div>
<div class="b" style="left:1264px;top:870px;width:60px;height:58px;background:#e0ffe0"></div>
<div class="t" style="top:871.00px;font-size:23px;line-height:29px;-webkit-text-stroke:0.6px #e0ffe0;left:1254.00px;width:80px;text-align:center;"><svg style="width:.5652em;height:.7391em" viewBox="0 0 13 17"><path d="M1 10.5H12.2M6.6 5V16"/></svg></div>
<div class="t" style="top:900.00px;font-size:22.5px;line-height:28px;-webkit-text-stroke:0.6px #e0ffe0;left:1254.00px;width:80px;text-align:center;transform:scaleX(0.9000);transform-origin:50% 0;">2:26</div>
<div class="b" style="left:1326px;top:870px;width:60px;height:58px;background:#f0c0a0"></div>
<div class="b" style="left:1352px;top:899px;width:7px;height:1px;background:#000"></div>
<div class="b" style="left:1388px;top:870px;width:71px;height:58px;background:#e0ffe0"></div>
<div class="t" style="top:871.00px;font-size:23px;line-height:29px;-webkit-text-stroke:0.6px #e0ffe0;left:1383.50px;width:80px;text-align:center;"><svg style="width:.5652em;height:.7391em" viewBox="0 0 13 17"><path d="M1 10.5H12.2M6.6 5V16"/></svg>3</div>
<div class="t" style="top:900.00px;font-size:22.5px;line-height:28px;-webkit-text-stroke:0.6px #e0ffe0;left:1383.50px;width:80px;text-align:center;transform:scaleX(0.9000);transform-origin:50% 0;">3:09</div>
<div class="b" style="left:1461px;top:870px;width:71px;height:58px;background:#e0ffe0"></div>
<div class="t" style="top:871.00px;font-size:23px;line-height:29px;-webkit-text-stroke:0.6px #e0ffe0;left:1456.50px;width:80px;text-align:center;"><svg style="width:.5652em;height:.7391em" viewBox="0 0 13 17"><path d="M1 10.5H12.2M6.6 5V16"/></svg><svg style="width:.4348em;height:.7391em" viewBox="0 0 10 17"><path d="M6.9 .4V17M6.9 .4L1.9 3.6"/></svg></div>
<div class="t" style="top:900.00px;font-size:22.5px;line-height:28px;-webkit-text-stroke:0.6px #e0ffe0;left:1456.50px;width:80px;text-align:center;transform:scaleX(0.9000);transform-origin:50% 0;">2:44</div>
<div class="b" style="left:1534px;top:870px;width:60px;height:58px;background:#f0c0a0"></div>
<div class="b" style="left:1560px;top:899px;width:7px;height:1px;background:#000"></div>
<div class="t" style="top:884.00px;font-size:23px;line-height:29px;-webkit-text-stroke:0.6px #f0c0a0;left:1597.00px;transform:scaleX(0.9300);transform-origin:0 0;">6</div>
<div class="t" style="top:884.00px;font-size:23px;line-height:29px;-webkit-text-stroke:0.6px #f0c0a0;left:1659.00px;transform:scaleX(0.9300);transform-origin:0 0;"><svg style="width:.4348em;height:.7391em" viewBox="0 0 10 17"><path d="M6.9 .4V17M6.9 .4L1.9 3.6"/></svg>408</div>
<div class="t" style="top:884.00px;font-size:23px;line-height:29px;-webkit-text-stroke:0.6px #f0c0a0;left:1719.00px;transform:scaleX(0.9300);transform-origin:0 0;">53<svg style="width:.913em;height:.7565em" viewBox="0 0 21 17.4"><ellipse cx="5.6" cy="4.8" rx="3.5" ry="3.8"/><ellipse cx="15.3" cy="12.9" rx="3.5" ry="3.8"/><path d="M4.6 17.2L16.1 .4"/></svg></div>
<div class="t" style="top:884.00px;font-size:23px;line-height:29px;-webkit-text-stroke:0.6px #f0c0a0;left:1768.00px;transform:scaleX(0.9300);transform-origin:0 0;">0.45</div>
<div class="b" style="left:99px;top:930px;width:61px;height:58px;background:#e8e8ff"></div>
<div class="b" style="left:162px;top:930px;width:691px;height:58px;background:#e8e8ff"></div>
<div class="b" style="left:1596px;top:930px;width:60px;height:58px;background:#e8e8ff"></div>
<div class="b" style="left:1658px;top:930px;width:58px;height:58px;background:#e8e8ff"></div>
<div class="b" style="left:1718px;top:930px;width:47px;height:58px;background:#e8e8ff"></div>
<div class="b" style="left:1767px;top:930px;width:46px;height:58px;background:#e8e8ff"></div>
<div class="t" style="top:944.00px;font-size:23px;line-height:29px;-webkit-text-stroke:0.6px #e8e8ff;left:78.70px;width:100px;text-align:center;transform:scaleX(0.9000);transform-origin:50% 0;"><svg style="width:.4348em;height:.7391em" viewBox="0 0 10 17"><path d="M6.9 .4V17M6.9 .4L1.9 3.6"/></svg>2.</div>
<div class="b" style="left:855px;top:930px;width:60px;height:58px;background:#e0ffe0"></div>
<div class="t" style="top:931.00px;font-size:23px;line-height:29px;-webkit-text-stroke:0.6px #e0ffe0;left:845.00px;width:80px;text-align:center;"><svg style="width:.5652em;height:.7391em" viewBox="0 0 13 17"><path d="M1 10.5H12.2M6.6 5V16"/></svg></div>
<div class="t" style="top:960.00px;font-size:22.5px;line-height:28px;-webkit-text-stroke:0.6px #e0ffe0;left:845.00px;width:80px;text-align:center;transform:scaleX(0.9000);transform-origin:50% 0;">4:<svg style="width:.4348em;height:.7391em" viewBox="0 0 10 17"><path d="M6.9 .4V17M6.9 .4L1.9 3.6"/></svg>4</div>
<div class="b" style="left:917px;top:930px;width:48px;height:58px;background:#e8e8ff"></div>
<div class="b" style="left:937px;top:959px;width:7px;height:1px;background:#000"></div>
<div class="b" style="left:967px;top:930px;width:71px;height:58px;background:#ffd0d0"></div>
<div class="t" style="top:931.00px;font-size:23px;line-height:29px;-webkit-text-stroke:0.6px #ffd0d0;left:962.50px;width:80px;text-align:center;"><svg style="width:.3913em;height:.7391em" viewBox="0 0 9 17"><path d="M1 10.5H7.6"/></svg>7</div>
<div class="t" style="top:960.00px;font-size:22.5px;line-height:28px;-webkit-text-stroke:0.6px #ffd0d0;left:962.50px;width:80px;text-align:center;transform:scaleX(0.9000);transform-origin:50% 0;">4:57</div>
<div class="b" style="left:1040px;top:930px;width:48px;height:58px;background:#e8e8ff"></div>
<div class="b" style="left:1060px;top:959px;width:7px;height:1px;background:#000"></div>
<div class="b" style="left:1090px;top:930px;width:60px;height:58px;background:#e0ffe0"></div>
<div class="t" style="top:931.00px;font-size:23px;line-height:29px;-webkit-text-stroke:0.6px #e0ffe0;left:1080.00px;width:80px;text-align:center;"><svg style="width:.5652em;height:.7391em" viewBox="0 0 13 17"><path d="M1 10.5H12.2M6.6 5V16"/></svg>3</div>
<div class="t" style="top:960.00px;font-size:22.5px;line-height:28px;-webkit-text-stroke:0.6px #e0ffe0;left:1080.00px;width:80px;text-align:center;transform:scaleX(0.9000);transform-origin:50% 0;">3:53</div>
<div class="b" style="left:1152px;top:930px;width:48px;height:58px;background:#e8e8ff"></div>
<div class="b" style="left:1172px;top:959px;width:7px;height:1px;background:#000"></div>
<div class="b" style="left:1202px;top:930px;width:60px;height:58px;background:#e0ffe0"></div>
<div class="t" style="top:931.00px;font-size:23px;line-height:29px;-webkit-text-stroke:0.6px #e0ffe0;left:1192.00px;width:80px;text-align:center;"><svg style="width:.5652em;height:.7391em" viewBox="0 0 13 17"><path d="M1 10.5H12.2M6.6 5V16"/></svg></div>
<div class="t" style="top:960.00px;font-size:22.5px;line-height:28px;-webkit-text-stroke:0.6px #e0ffe0;left:1192.00px;width:80px;text-align:center;transform:scaleX(0.9000);transform-origin:50% 0;">2:22</div>
<div class="b" style="left:1264px;top:930px;width:60px;height:58px;background:#e0ffe0"></div>
<div class="t" style="top:931.00px;font-size:23px;line-height:29px;-webkit-text-stroke:0.6px #e0ffe0;left:1254.00px;width:80px;text-align:center;"><svg style="width:.5652em;height:.7391em" viewBox="0 0 13 17"><path d="M1 10.5H12.2M6.6 5V16"/></svg></div>
<div class="t" style="top:960.00px;font-size:22.5px;line-height:28px;-webkit-text-stroke:0.6px #e0ffe0;left:1254.00px;width:80px;text-align:center;transform:scaleX(0.9000);transform-origin:50% 0;">4:<svg style="width:.4348em;height:.7391em" viewBox="0 0 10 17"><path d="M6.9 .4V17M6.9 .4L1.9 3.6"/></svg>3</div>
<div class="b" style="left:1326px;top:930px;width:60px;height:58px;background:#e8e8ff"></div>
<div class="b" style="left:1352px;top:959px;width:7px;height:1px;background:#000"></div>
<div class="b" style="left:1388px;top:930px;width:71px;height:58px;background:#e0ffe0"></div>
<div class="t" style="top:931.00px;font-size:23px;line-height:29px;-webkit-text-stroke:0.6px #e0ffe0;left:1383.50px;width:80px;text-align:center;"><svg style="width:.5652em;height:.7391em" viewBox="0 0 13 17"><path d="M1 10.5H12.2M6.6 5V16"/></svg></div>
<div class="t" style="top:960.00px;font-size:22.5px;line-height:28px;-webkit-text-stroke:0.6px #e0ffe0;left:1383.50px;width:80px;text-align:center;transform:scaleX(0.9000);transform-origin:50% 0;">2:22</div>
<div class="b" style="left:1461px;top:930px;width:71px;height:58px;background:#e0ffe0"></div>
<div class="t" style="top:931.00px;font-size:23px;line-height:29px;-webkit-text-stroke:0.6px #e0ffe0;left:1456.50px;width:80px;text-align:center;"><svg style="width:.5652em;height:.7391em" viewBox="0 0 13 17"><path d="M1 10.5H12.2M6.6 5V16"/></svg>2</div>
<div class="t" style="top:960.00px;font-size:22.5px;line-height:28px;-webkit-text-stroke:0.6px #e0ffe0;left:1456.50px;width:80px;text-align:center;transform:scaleX(0.9000);transform-origin:50% 0;">4:47</div>
<div class="b" style="left:1534px;top:930px;width:60px;height:58px;background:#e8e8ff"></div>
<div class="b" style="left:1560px;top:959px;width:7px;height:1px;background:#000"></div>
<div class="t" style="top:944.00px;font-size:23px;line-height:29px;-webkit-text-stroke:0.6px #e8e8ff;left:1597.00px;transform:scaleX(0.9300);transform-origin:0 0;">6</div>
<div class="t" style="top:944.00px;font-size:23px;line-height:29px;-webkit-text-stroke:0.6px #e8e8ff;left:1659.00px;transform:scaleX(0.9300);transform-origin:0 0;"><svg style="width:.4348em;height:.7391em" viewBox="0 0 10 17"><path d="M6.9 .4V17M6.9 .4L1.9 3.6"/></svg>4<svg style="width:.4348em;height:.7391em" viewBox="0 0 10 17"><path d="M6.9 .4V17M6.9 .4L1.9 3.6"/></svg>4</div>
<div class="t" style="top:944.00px;font-size:23px;line-height:29px;-webkit-text-stroke:0.6px #e8e8ff;left:1719.00px;transform:scaleX(0.9300);transform-origin:0 0;">45<svg style="width:.913em;height:.7565em" viewBox="0 0 21 17.4"><ellipse cx="5.6" cy="4.8" rx="3.5" ry="3.8"/><ellipse cx="15.3" cy="12.9" rx="3.5" ry="3.8"/><path d="M4.6 17.2L16.1 .4"/></svg></div>
<div class="t" style="top:944.00px;font-size:23px;line-height:29px;-webkit-text-stroke:0.6px #e8e8ff;left:1768.00px;transform:scaleX(0.9300);transform-origin:0 0;">0.45</div>
<div class="b" style="left:99px;top:990px;width:61px;height:58px;background:#f8f8f8"></div>
<div class="b" style="left:162px;top:990px;width:691px;height:58px;background:#f8f8f8"></div>
<div class="b" style="left:1596px;top:990px;width:60px;height:58px;background:#f8f8f8"></div>
<div class="b" style="left:1658px;top:990px;width:58px;height:58px;background:#f8f8f8"></div>
<div class="b" style="left:1718px;top:990px;width:47px;height:58px;background:#f8f8f8"></div>
<div class="b" style="left:1767px;top:990px;width:46px;height:58px;background:#f8f8f8"></div>
<div class="t" style="top:1004.00px;font-size:23px;line-height:29px;-webkit-text-stroke:0.6px #f8f8f8;left:78.70px;width:100px;text-align:center;transform:scaleX(0.9000);transform-origin:50% 0;"><svg style="width:.4348em;height:.7391em" viewBox="0 0 10 17"><path d="M6.9 .4V17M6.9 .4L1.9 3.6"/></svg>3.</div>
<div class="b" style="left:855px;top:990px;width:60px;height:58px;background:#e0ffe0"></div>
<div class="t" style="top:991.00px;font-size:23px;line-height:29px;-webkit-text-stroke:0.6px #e0ffe0;left:845.00px;width:80px;text-align:center;"><svg style="width:.5652em;height:.7391em" viewBox="0 0 13 17"><path d="M1 10.5H12.2M6.6 5V16"/></svg></div>
<div class="t" style="top:1020.00px;font-size:22.5px;line-height:28px;-webkit-text-stroke:0.6px #e0ffe0;left:845.00px;width:80px;text-align:center;transform:scaleX(0.9000);transform-origin:50% 0;"><svg style="width:.4348em;height:.7391em" viewBox="0 0 10 17"><path d="M6.9 .4V17M6.9 .4L1.9 3.6"/></svg>:39</div>
<div class="b" style="left:917px;top:990px;width:48px;height:58px;background:#f8f8f8"></div>
<div class="b" style="left:937px;top:1019px;width:7px;height:1px;background:#000"></div>
<div class="b" style="left:967px;top:990px;width:71px;height:58px;background:#ffd0d0"></div>
<div class="t" style="top:991.00px;font-size:23px;line-height:29px;-webkit-text-stroke:0.6px #ffd0d0;left:962.50px;width:80px;text-align:center;"><svg style="width:.3913em;height:.7391em" viewBox="0 0 9 17"><path d="M1 10.5H7.6"/></svg>33</div>
<div class="t" style="top:1020.00px;font-size:22.5px;line-height:28px;-webkit-text-stroke:0.6px #ffd0d0;left:962.50px;width:80px;text-align:center;transform:scaleX(0.9000);transform-origin:50% 0;">4:46</div>
<div class="b" style="left:1040px;top:990px;width:48px;height:58px;background:#f8f8f8"></div>
<div class="b" style="left:1060px;top:1019px;width:7px;height:1px;background:#000"></div>
<div class="b" style="left:1090px;top:990px;width:60px;height:58px;background:#e0ffe0"></div>
<div class="t" style="top:991.00px;font-size:23px;line-height:29px;-webkit-text-stroke:0.6px #e0ffe0;left:1080.00px;width:80px;text-align:center;"><svg style="width:.5652em;height:.7391em" viewBox="0 0 13 17"><path d="M1 10.5H12.2M6.6 5V16"/></svg></div>
<div class="t" style="top:1020.00px;font-size:22.5px;line-height:28px;-webkit-text-stroke:0.6px #e0ffe0;left:1080.00px;width:80px;text-align:center;transform:scaleX(0.9000);transform-origin:50% 0;">3:27</div>
<div class="b" style="left:1152px;top:990px;width:48px;height:58px;background:#f8f8f8"></div>
<div class="b" style="left:1172px;top:1019px;width:7px;height:1px;background:#000"></div>
<div class="b" style="left:1202px;top:990px;width:60px;height:58px;background:#e0ffe0"></div>
<div class="t" style="top:991.00px;font-size:23px;line-height:29px;-webkit-text-stroke:0.6px #e0ffe0;left:1192.00px;width:80px;text-align:center;"><svg style="width:.5652em;height:.7391em" viewBox="0 0 13 17"><path d="M1 10.5H12.2M6.6 5V16"/></svg></div>
<div class="t" style="top:1020.00px;font-size:22.5px;line-height:28px;-webkit-text-stroke:0.6px #e0ffe0;left:1192.00px;width:80px;text-align:center;transform:scaleX(0.9000);transform-origin:50% 0;">2:20</div>
<div class="b" style="left:1264px;top:990px;width:60px;height:58px;background:#ffd0d0"></div>
<div class="t" style="top:991.00px;font-size:23px;line-height:29px;-webkit-text-stroke:0.6px #ffd0d0;left:1254.00px;width:80px;text-align:center;"><svg style="width:.3913em;height:.7391em" viewBox="0 0 9 17"><path d="M1 10.5H7.6"/></svg><svg style="width:.4348em;height:.7391em" viewBox="0 0 10 17"><path d="M6.9 .4V17M6.9 .4L1.9 3.6"/></svg><svg style="width:.4348em;height:.7391em" viewBox="0 0 10 17"><path d="M6.9 .4V17M6.9 .4L1.9 3.6"/></svg></div>
<div class="t" style="top:1020.00px;font-size:22.5px;line-height:28px;-webkit-text-stroke:0.6px #ffd0d0;left:1254.00px;width:80px;text-align:center;transform:scaleX(0.9000);transform-origin:50% 0;">4:59</div>
<div class="b" style="left:1326px;top:990px;width:60px;height:58px;background:#f8f8f8"></div>
<div class="b" style="left:1352px;top:1019px;width:7px;height:1px;background:#000"></div>
<div class="b" style="left:1388px;top:990px;width:71px;height:58px;background:#e0ffe0"></div>
<div class="t" style="top:991.00px;font-size:23px;line-height:29px;-webkit-text-stroke:0.6px #e0ffe0;left:1383.50px;width:80px;text-align:center;"><svg style="width:.5652em;height:.7391em" viewBox="0 0 13 17"><path d="M1 10.5H12.2M6.6 5V16"/></svg>2</div>
<div class="t" style="top:1020.00px;font-size:22.5px;line-height:28px;-webkit-text-stroke:0.6px #e0ffe0;left:1383.50px;width:80px;text-align:center;transform:scaleX(0.9000);transform-origin:50% 0;">3:48</div>
<div class="b" style="left:1461px;top:990px;width:71px;height:58px;background:#e0ffe0"></div>
<div class="t" style="top:991.00px;font-size:23px;line-height:29px;-webkit-text-stroke:0.6px #e0ffe0;left:1456.50px;width:80px;text-align:center;"><svg style="width:.5652em;height:.7391em" viewBox="0 0 13 17"><path d="M1 10.5H12.2M6.6 5V16"/></svg>2</div>
<div class="t" style="top:1020.00px;font-size:22.5px;line-height:28px;-webkit-text-stroke:0.6px #e0ffe0;left:1456.50px;width:80px;text-align:center;transform:scaleX(0.9000);transform-origin:50% 0;">3:52</div>
<div class="b" style="left:1534px;top:990px;width:60px;height:58px;background:#f8f8f8"></div>
<div class="b" style="left:1560px;top:1019px;width:7px;height:1px;background:#000"></div>
<div class="t" style="top:1004.00px;font-size:23px;line-height:29px;-webkit-text-stroke:0.6px #f8f8f8;left:1597.00px;transform:scaleX(0.9300);transform-origin:0 0;">5</div>
<div class="t" style="top:1004.00px;font-size:23px;line-height:29px;-webkit-text-stroke:0.6px #f8f8f8;left:1659.00px;transform:scaleX(0.9300);transform-origin:0 0;">988</div>
<div class="t" style="top:1004.00px;font-size:23px;line-height:29px;-webkit-text-stroke:0.6px #f8f8f8;left:1719.00px;transform:scaleX(0.9300);transform-origin:0 0;">44<svg style="width:.913em;height:.7565em" viewBox="0 0 21 17.4"><ellipse cx="5.6" cy="4.8" rx="3.5" ry="3.8"/><ellipse cx="15.3" cy="12.9" rx="3.5" ry="3.8"/><path d="M4.6 17.2L16.1 .4"/></svg></div>
<div class="t" style="top:1004.00px;font-size:23px;line-height:29px;-webkit-text-stroke:0.6px #f8f8f8;left:1768.00px;transform:scaleX(0.9300);transform-origin:0 0;">0.40</div>
<div class="b" style="left:99px;top:1050px;width:61px;height:58px;background:#f2f2f2"></div>
<div class="b" style="left:162px;top:1050px;width:691px;height:58px;background:#f2f2f2"></div>
<div class="b" style="left:1596px;top:1050px;width:60px;height:58px;background:#f2f2f2"></div>
<div class="b" style="left:1658px;top:1050px;width:58px;height:58px;background:#f2f2f2"></div>
<div class="b" style="left:1718px;top:1050px;width:47px;height:58px;background:#f2f2f2"></div>
<div class="b" style="left:1767px;top:1050px;width:46px;height:58px;background:#f2f2f2"></div>
<div class="t" style="top:1064.00px;font-size:23px;line-height:29px;-webkit-text-stroke:0.6px #f2f2f2;left:78.70px;width:100px;text-align:center;transform:scaleX(0.9000);transform-origin:50% 0;"><svg style="width:.4348em;height:.7391em" viewBox="0 0 10 17"><path d="M6.9 .4V17M6.9 .4L1.9 3.6"/></svg>4.</div>
<div class="b" style="left:855px;top:1050px;width:60px;height:58px;background:#e0ffe0"></div>
<div class="t" style="top:1051.00px;font-size:23px;line-height:29px;-webkit-text-stroke:0.6px #e0ffe0;left:845.00px;width:80px;text-align:center;"><svg style="width:.5652em;height:.7391em" viewBox="0 0 13 17"><path d="M1 10.5H12.2M6.6 5V16"/></svg>2</div>
<div class="t" style="top:1080.00px;font-size:22.5px;line-height:28px;-webkit-text-stroke:0.6px #e0ffe0;left:845.00px;width:80px;text-align:center;transform:scaleX(0.9000);transform-origin:50% 0;">2:04</div>
<div class="b" style="left:917px;top:1050px;width:48px;height:58px;background:#f2f2f2"></div>
<div class="b" style="left:937px;top:1079px;width:7px;height:1px;background:#000"></div>
<div class="b" style="left:967px;top:1050px;width:71px;height:58px;background:#e0ffe0"></div>
<div class="t" style="top:1051.00px;font-size:23px;line-height:29px;-webkit-text-stroke:0.6px #e0ffe0;left:962.50px;width:80px;text-align:center;"><svg style="width:.5652em;height:.7391em" viewBox="0 0 13 17"><path d="M1 10.5H12.2M6.6 5V16"/></svg>2</div>
<div class="t" style="top:1080.00px;font-size:22.5px;line-height:28px;-webkit-text-stroke:0.6px #e0ffe0;left:962.50px;width:80px;text-align:center;transform:scaleX(0.9000);transform-origin:50% 0;">4:2<svg style="width:.4348em;height:.7391em" viewBox="0 0 10 17"><path d="M6.9 .4V17M6.9 .4L1.9 3.6"/></svg></div>
<div class="b" style="left:1040px;top:1050px;width:48px;height:58px;background:#f2f2f2"></div>
<div class="b" style="left:1060px;top:1079px;width:7px;height:1px;background:#000"></div>
<div class="b" style="left:1090px;top:1050px;width:60px;height:58px;background:#e0ffe0"></div>
<div class="t" style="top:1051.00px;font-size:23px;line-height:29px;-webkit-text-stroke:0.6px #e0ffe0;left:1080.00px;width:80px;text-align:center;"><svg style="width:.5652em;height:.7391em" viewBox="0 0 13 17"><path d="M1 10.5H12.2M6.6 5V16"/></svg>2</div>
<div class="t" style="top:1080.00px;font-size:22.5px;line-height:28px;-webkit-text-stroke:0.6px #e0ffe0;left:1080.00px;width:80px;text-align:center;transform:scaleX(0.9000);transform-origin:50% 0;">3:23</div>
<div class="b" style="left:1152px;top:1050px;width:48px;height:58px;background:#f2f2f2"></div>
<div class="b" style="left:1172px;top:1079px;width:7px;height:1px;background:#000"></div>
<div class="b" style="left:1202px;top:1050px;width:60px;height:58px;background:#f2f2f2"></div>
<div class="b" style="left:1228px;top:1079px;width:7px;height:1px;background:#000"></div>
<div class="b" style="left:1264px;top:1050px;width:60px;height:58px;background:#f2f2f2"></div>
<div class="b" style="left:1290px;top:1079px;width:7px;height:1px;background:#000"></div>
<div class="b" style="left:1326px;top:1050px;width:60px;height:58px;background:#f2f2f2"></div>
<div class="b" style="left:1352px;top:1079px;width:7px;height:1px;background:#000"></div>
<div class="b" style="left:1388px;top:1050px;width:71px;height:58px;background:#e0ffe0"></div>
<div class="t" style="top:1051.00px;font-size:23px;line-height:29px;-webkit-text-stroke:0.6px #e0ffe0;left:1383.50px;width:80px;text-align:center;"><svg style="width:.5652em;height:.7391em" viewBox="0 0 13 17"><path d="M1 10.5H12.2M6.6 5V16"/></svg><svg style="width:.4348em;height:.7391em" viewBox="0 0 10 17"><path d="M6.9 .4V17M6.9 .4L1.9 3.6"/></svg></div>
<div class="t" style="top:1080.00px;font-size:22.5px;line-height:28px;-webkit-text-stroke:0.6px #e0ffe0;left:1383.50px;width:80px;text-align:center;transform:scaleX(0.9000);transform-origin:50% 0;">2:<svg style="width:.4348em;height:.7391em" viewBox="0 0 10 17"><path d="M6.9 .4V17M6.9 .4L1.9 3.6"/></svg>8</div>
<div class="b" style="left:1461px;top:1050px;width:71px;height:58px;background:#e0ffe0"></div>
<div class="t" style="top:1051.00px;font-size:23px;line-height:29px;-webkit-text-stroke:0.6px #e0ffe0;left:1456.50px;width:80px;text-align:center;"><svg style="width:.5652em;height:.7391em" viewBox="0 0 13 17"><path d="M1 10.5H12.2M6.6 5V16"/></svg><svg style="width:.4348em;height:.7391em" viewBox="0 0 10 17"><path d="M6.9 .4V17M6.9 .4L1.9 3.6"/></svg></div>
<div class="t" style="top:1080.00px;font-size:22.5px;line-height:28px;-webkit-text-stroke:0.6px #e0ffe0;left:1456.50px;width:80px;text-align:center;transform:scaleX(0.9000);transform-origin:50% 0;"><svg style="width:.4348em;height:.7391em" viewBox="0 0 10 17"><path d="M6.9 .4V17M6.9 .4L1.9 3.6"/></svg>:54</div>
<div class="b" style="left:1534px;top:1050px;width:60px;height:58px;background:#f2f2f2"></div>
<div class="b" style="left:1560px;top:1079px;width:7px;height:1px;background:#000"></div>
<div class="t" style="top:1064.00px;font-size:23px;line-height:29px;-webkit-text-stroke:0.6px #f2f2f2;left:1597.00px;transform:scaleX(0.9300);transform-origin:0 0;">5</div>
<div class="t" style="top:1064.00px;font-size:23px;line-height:29px;-webkit-text-stroke:0.6px #f2f2f2;left:1659.00px;transform:scaleX(0.9300);transform-origin:0 0;"><svg style="width:.4348em;height:.7391em" viewBox="0 0 10 17"><path d="M6.9 .4V17M6.9 .4L1.9 3.6"/></svg>00<svg style="width:.4348em;height:.7391em" viewBox="0 0 10 17"><path d="M6.9 .4V17M6.9 .4L1.9 3.6"/></svg></div>
<div class="t" style="top:1064.00px;font-size:23px;line-height:29px;-webkit-text-stroke:0.6px #f2f2f2;left:1719.00px;transform:scaleX(0.9300);transform-origin:0 0;">6<svg style="width:.4348em;height:.7391em" viewBox="0 0 10 17"><path d="M6.9 .4V17M6.9 .4L1.9 3.6"/></svg><svg style="width:.913em;height:.7565em" viewBox="0 0 21 17.4"><ellipse cx="5.6" cy="4.8" rx="3.5" ry="3.8"/><ellipse cx="15.3" cy="12.9" rx="3.5" ry="3.8"/><path d="M4.6 17.2L16.1 .4"/></svg></div>
<div class="t" style="top:1064.00px;font-size:23px;line-height:29px;-webkit-text-stroke:0.6px #f2f2f2;left:1768.00px;transform:scaleX(0.9300);transform-origin:0 0;">0.43</div>
<div class="b" style="left:99px;top:1110px;width:61px;height:58px;background:#f8f8f8"></div>
<div class="b" style="left:162px;top:1110px;width:691px;height:58px;background:#f8f8f8"></div>
<div class="b" style="left:1596px;top:1110px;width:60px;height:58px;background:#f8f8f8"></div>
<div class="b" style="left:1658px;top:1110px;width:58px;height:58px;background:#f8f8f8"></div>
<div class="b" style="left:1718px;top:1110px;width:47px;height:58px;background:#f8f8f8"></div>
<div class="b" style="left:1767px;top:1110px;width:46px;height:58px;background:#f8f8f8"></div>
<div class="t" style="top:1124.00px;font-size:23px;line-height:29px;-webkit-text-stroke:0.6px #f8f8f8;left:78.70px;width:100px;text-align:center;transform:scaleX(0.9000);transform-origin:50% 0;"><svg style="width:.4348em;height:.7391em" viewBox="0 0 10 17"><path d="M6.9 .4V17M6.9 .4L1.9 3.6"/></svg>5.</div>
<div class="b" style="left:855px;top:1110px;width:60px;height:58px;background:#e0ffe0"></div>
<div class="t" style="top:1111.00px;font-size:23px;line-height:29px;-webkit-text-stroke:0.6px #e0ffe0;left:845.00px;width:80px;text-align:center;"><svg style="width:.5652em;height:.7391em" viewBox="0 0 13 17"><path d="M1 10.5H12.2M6.6 5V16"/></svg></div>
<div class="t" style="top:1140.00px;font-size:22.5px;line-height:28px;-webkit-text-stroke:0.6px #e0ffe0;left:845.00px;width:80px;text-align:center;transform:scaleX(0.9000);transform-origin:50% 0;"><svg style="width:.4348em;height:.7391em" viewBox="0 0 10 17"><path d="M6.9 .4V17M6.9 .4L1.9 3.6"/></svg>:5<svg style="width:.4348em;height:.7391em" viewBox="0 0 10 17"><path d="M6.9 .4V17M6.9 .4L1.9 3.6"/></svg></div>
<div class="b" style="left:917px;top:1110px;width:48px;height:58px;background:#f8f8f8"></div>
<div class="b" style="left:937px;top:1139px;width:7px;height:1px;background:#000"></div>
<div class="b" style="left:967px;top:1110px;width:71px;height:58px;background:#e0ffe0"></div>
<div class="t" style="top:1111.00px;font-size:23px;line-height:29px;-webkit-text-stroke:0.6px #e0ffe0;left:962.50px;width:80px;text-align:center;"><svg style="width:.5652em;height:.7391em" viewBox="0 0 13 17"><path d="M1 10.5H12.2M6.6 5V16"/></svg></div>
<div class="t" style="top:1140.00px;font-size:22.5px;line-height:28px;-webkit-text-stroke:0.6px #e0ffe0;left:962.50px;width:80px;text-align:center;transform:scaleX(0.9000);transform-origin:50% 0;">2:33</div>
<div class="b" style="left:1040px;top:1110px;width:48px;height:58px;background:#f8f8f8"></div>
<div class="b" style="left:1060px;top:1139px;width:7px;height:1px;background:#000"></div>
<div class="b" style="left:1090px;top:1110px;width:60px;height:58px;background:#ffd0d0"></div>
<div class="t" style="top:1111.00px;font-size:23px;line-height:29px;-webkit-text-stroke:0.6px #ffd0d0;left:1080.00px;width:80px;text-align:center;"><svg style="width:.3913em;height:.7391em" viewBox="0 0 9 17"><path d="M1 10.5H7.6"/></svg>2</div>
<div class="t" style="top:1140.00px;font-size:22.5px;line-height:28px;-webkit-text-stroke:0.6px #ffd0d0;left:1080.00px;width:80px;text-align:center;transform:scaleX(0.9000);transform-origin:50% 0;">4:59</div>
<div class="b" style="left:1152px;top:1110px;width:48px;height:58px;background:#f8f8f8"></div>
<div class="b" style="left:1172px;top:1139px;width:7px;height:1px;background:#000"></div>
<div class="b" style="left:1202px;top:1110px;width:60px;height:58px;background:#e0ffe0"></div>
<div class="t" style="top:1111.00px;font-size:23px;line-height:29px;-webkit-text-stroke:0.6px #e0ffe0;left:1192.00px;width:80px;text-align:center;"><svg style="width:.5652em;height:.7391em" viewBox="0 0 13 17"><path d="M1 10.5H12.2M6.6 5V16"/></svg>8</div>
<div class="t" style="top:1140.00px;font-size:22.5px;line-height:28px;-webkit-text-stroke:0.6px #e0ffe0;left:1192.00px;width:80px;text-align:center;transform:scaleX(0.9000);transform-origin:50% 0;">4:3<svg style="width:.4348em;height:.7391em" viewBox="0 0 10 17"><path d="M6.9 .4V17M6.9 .4L1.9 3.6"/></svg></div>
<div class="b" style="left:1264px;top:1110px;width:60px;height:58px;background:#ffd0d0"></div>
<div class="t" style="top:1111.00px;font-size:23px;line-height:29px;-webkit-text-stroke:0.6px #ffd0d0;left:1254.00px;width:80px;text-align:center;"><svg style="width:.3913em;height:.7391em" viewBox="0 0 9 17"><path d="M1 10.5H7.6"/></svg><svg style="width:.4348em;height:.7391em" viewBox="0 0 10 17"><path d="M6.9 .4V17M6.9 .4L1.9 3.6"/></svg></div>
<div class="t" style="top:1140.00px;font-size:22.5px;line-height:28px;-webkit-text-stroke:0.6px #ffd0d0;left:1254.00px;width:80px;text-align:center;transform:scaleX(0.9000);transform-origin:50% 0;">3:47</div>
<div class="b" style="left:1326px;top:1110px;width:60px;height:58px;background:#f8f8f8"></div>
<div class="b" style="left:1352px;top:1139px;width:7px;height:1px;background:#000"></div>
<div class="b" style="left:1388px;top:1110px;width:71px;height:58px;background:#e0ffe0"></div>
<div class="t" style="top:1111.00px;font-size:23px;line-height:29px;-webkit-text-stroke:0.6px #e0ffe0;left:1383.50px;width:80px;text-align:center;"><svg style="width:.5652em;height:.7391em" viewBox="0 0 13 17"><path d="M1 10.5H12.2M6.6 5V16"/></svg><svg style="width:.4348em;height:.7391em" viewBox="0 0 10 17"><path d="M6.9 .4V17M6.9 .4L1.9 3.6"/></svg></div>
<div class="t" style="top:1140.00px;font-size:22.5px;line-height:28px;-webkit-text-stroke:0.6px #e0ffe0;left:1383.50px;width:80px;text-align:center;transform:scaleX(0.9000);transform-origin:50% 0;">2:04</div>
<div class="b" style="left:1461px;top:1110px;width:71px;height:58px;background:#e0ffe0"></div>
<div class="t" style="top:1111.00px;font-size:23px;line-height:29px;-webkit-text-stroke:0.6px #e0ffe0;left:1456.50px;width:80px;text-align:center;"><svg style="width:.5652em;height:.7391em" viewBox="0 0 13 17"><path d="M1 10.5H12.2M6.6 5V16"/></svg>3</div>
<div class="t" style="top:1140.00px;font-size:22.5px;line-height:28px;-webkit-text-stroke:0.6px #e0ffe0;left:1456.50px;width:80px;text-align:center;transform:scaleX(0.9000);transform-origin:50% 0;"><svg style="width:.4348em;height:.7391em" viewBox="0 0 10 17"><path d="M6.9 .4V17M6.9 .4L1.9 3.6"/></svg>:49</div>
<div class="b" style="left:1534px;top:1110px;width:60px;height:58px;background:#f8f8f8"></div>
<div class="b" style="left:1560px;top:1139px;width:7px;height:1px;background:#000"></div>
<div class="t" style="top:1124.00px;font-size:23px;line-height:29px;-webkit-text-stroke:0.6px #f8f8f8;left:1597.00px;transform:scaleX(0.9300);transform-origin:0 0;">5</div>
<div class="t" style="top:1124.00px;font-size:23px;line-height:29px;-webkit-text-stroke:0.6px #f8f8f8;left:1659.00px;transform:scaleX(0.9300);transform-origin:0 0;"><svg style="width:.4348em;height:.7391em" viewBox="0 0 10 17"><path d="M6.9 .4V17M6.9 .4L1.9 3.6"/></svg>0<svg style="width:.4348em;height:.7391em" viewBox="0 0 10 17"><path d="M6.9 .4V17M6.9 .4L1.9 3.6"/></svg><svg style="width:.4348em;height:.7391em" viewBox="0 0 10 17"><path d="M6.9 .4V17M6.9 .4L1.9 3.6"/></svg></div>
<div class="t" style="top:1124.00px;font-size:23px;line-height:29px;-webkit-text-stroke:0.6px #f8f8f8;left:1719.00px;transform:scaleX(0.9300);transform-origin:0 0;">70<svg style="width:.913em;height:.7565em" viewBox="0 0 21 17.4"><ellipse cx="5.6" cy="4.8" rx="3.5" ry="3.8"/><ellipse cx="15.3" cy="12.9" rx="3.5" ry="3.8"/><path d="M4.6 17.2L16.1 .4"/></svg></div>
<div class="t" style="top:1124.00px;font-size:23px;line-height:29px;-webkit-text-stroke:0.6px #f8f8f8;left:1768.00px;transform:scaleX(0.9300);transform-origin:0 0;">0.39</div>
<div class="b" style="left:99px;top:1170px;width:61px;height:58px;background:#f2f2f2"></div>
<div class="b" style="left:162px;top:1170px;width:691px;height:58px;background:#f2f2f2"></div>
<div class="b" style="left:1596px;top:1170px;width:60px;height:58px;background:#f2f2f2"></div>
<div class="b" style="left:1658px;top:1170px;width:58px;height:58px;background:#f2f2f2"></div>
<div class="b" style="left:1718px;top:1170px;width:47px;height:58px;background:#f2f2f2"></div>
<div class="b" style="left:1767px;top:1170px;width:46px;height:58px;background:#f2f2f2"></div>
<div class="t" style="top:1184.00px;font-size:23px;line-height:29px;-webkit-text-stroke:0.6px #f2f2f2;left:78.70px;width:100px;text-align:center;transform:scaleX(0.9000);transform-origin:50% 0;"><svg style="width:.4348em;height:.7391em" viewBox="0 0 10 17"><path d="M6.9 .4V17M6.9 .4L1.9 3.6"/></svg>6.</div>
<div class="b" style="left:855px;top:1170px;width:60px;height:58px;background:#e0ffe0"></div>
<div class="t" style="top:1171.00px;font-size:23px;line-height:29px;-webkit-text-stroke:0.6px #e0ffe0;left:845.00px;width:80px;text-align:center;"><svg style="width:.5652em;height:.7391em" viewBox="0 0 13 17"><path d="M1 10.5H12.2M6.6 5V16"/></svg></div>
<div class="t" style="top:1200.00px;font-size:22.5px;line-height:28px;-webkit-text-stroke:0.6px #e0ffe0;left:845.00px;width:80px;text-align:center;transform:scaleX(0.9000);transform-origin:50% 0;">2:43</div>
<div class="b" style="left:917px;top:1170px;width:48px;height:58px;background:#f2f2f2"></div>
<div class="b" style="left:937px;top:1199px;width:7px;height:1px;background:#000"></div>
<div class="b" style="left:967px;top:1170px;width:71px;height:58px;background:#e0ffe0"></div>
<div class="t" style="top:1171.00px;font-size:23px;line-height:29px;-webkit-text-stroke:0.6px #e0ffe0;left:962.50px;width:80px;text-align:center;"><svg style="width:.5652em;height:.7391em" viewBox="0 0 13 17"><path d="M1 10.5H12.2M6.6 5V16"/></svg><svg style="width:.4348em;height:.7391em" viewBox="0 0 10 17"><path d="M6.9 .4V17M6.9 .4L1.9 3.6"/></svg></div>
<div class="t" style="top:1200.00px;font-size:22.5px;line-height:28px;-webkit-text-stroke:0.6px #e0ffe0;left:962.50px;width:80px;text-align:center;transform:scaleX(0.9000);transform-origin:50% 0;">2:37</div>
<div class="b" style="left:1040px;top:1170px;width:48px;height:58px;background:#f2f2f2"></div>
<div class="b" style="left:1060px;top:1199px;width:7px;height:1px;background:#000"></div>
<div class="b" style="left:1090px;top:1170px;width:60px;height:58px;background:#f2f2f2"></div>
<div class="b" style="left:1116px;top:1199px;width:7px;height:1px;background:#000"></div>
<div class="b" style="left:1152px;top:1170px;width:48px;height:58px;background:#f2f2f2"></div>
<div class="b" style="left:1172px;top:1199px;width:7px;height:1px;background:#000"></div>
<div class="b" style="left:1202px;top:1170px;width:60px;height:58px;background:#e0ffe0"></div>
<div class="t" style="top:1171.00px;font-size:23px;line-height:29px;-webkit-text-stroke:0.6px #e0ffe0;left:1192.00px;width:80px;text-align:center;"><svg style="width:.5652em;height:.7391em" viewBox="0 0 13 17"><path d="M1 10.5H12.2M6.6 5V16"/></svg>6</div>
<div class="t" style="top:1200.00px;font-size:22.5px;line-height:28px;-webkit-text-stroke:0.6px #e0ffe0;left:1192.00px;width:80px;text-align:center;transform:scaleX(0.9000);transform-origin:50% 0;">4:<svg style="width:.4348em;height:.7391em" viewBox="0 0 10 17"><path d="M6.9 .4V17M6.9 .4L1.9 3.6"/></svg>6</div>
<div class="b" style="left:1264px;top:1170px;width:60px;height:58px;background:#ffd0d0"></div>
<div class="t" style="top:1171.00px;font-size:23px;line-height:29px;-webkit-text-stroke:0.6px #ffd0d0;left:1254.00px;width:80px;text-align:center;"><svg style="width:.3913em;height:.7391em" viewBox="0 0 9 17"><path d="M1 10.5H7.6"/></svg>2</div>
<div class="t" style="top:1200.00px;font-size:22.5px;line-height:28px;-webkit-text-stroke:0.6px #ffd0d0;left:1254.00px;width:80px;text-align:center;transform:scaleX(0.9000);transform-origin:50% 0;">4:56</div>
<div class="b" style="left:1326px;top:1170px;width:60px;height:58px;background:#f2f2f2"></div>
<div class="b" style="left:1352px;top:1199px;width:7px;height:1px;background:#000"></div>
<div class="b" style="left:1388px;top:1170px;width:71px;height:58px;background:#e0ffe0"></div>
<div class="t" style="top:1171.00px;font-size:23px;line-height:29px;-webkit-text-stroke:0.6px #e0ffe0;left:1383.50px;width:80px;text-align:center;"><svg style="width:.5652em;height:.7391em" viewBox="0 0 13 17"><path d="M1 10.5H12.2M6.6 5V16"/></svg>2</div>
<div class="t" style="top:1200.00px;font-size:22.5px;line-height:28px;-webkit-text-stroke:0.6px #e0ffe0;left:1383.50px;width:80px;text-align:center;transform:scaleX(0.9000);transform-origin:50% 0;">3:23</div>
<div class="b" style="left:1461px;top:1170px;width:71px;height:58px;background:#e0ffe0"></div>
<div class="t" style="top:1171.00px;font-size:23px;line-height:29px;-webkit-text-stroke:0.6px #e0ffe0;left:1456.50px;width:80px;text-align:center;"><svg style="width:.5652em;height:.7391em" viewBox="0 0 13 17"><path d="M1 10.5H12.2M6.6 5V16"/></svg></div>
<div class="t" style="top:1200.00px;font-size:22.5px;line-height:28px;-webkit-text-stroke:0.6px #e0ffe0;left:1456.50px;width:80px;text-align:center;transform:scaleX(0.9000);transform-origin:50% 0;">3:04</div>
<div class="b" style="left:1534px;top:1170px;width:60px;height:58px;background:#f2f2f2"></div>
<div class="b" style="left:1560px;top:1199px;width:7px;height:1px;background:#000"></div>
<div class="t" style="top:1184.00px;font-size:23px;line-height:29px;-webkit-text-stroke:0.6px #f2f2f2;left:1597.00px;transform:scaleX(0.9300);transform-origin:0 0;">5</div>
<div class="t" style="top:1184.00px;font-size:23px;line-height:29px;-webkit-text-stroke:0.6px #f2f2f2;left:1659.00px;transform:scaleX(0.9300);transform-origin:0 0;"><svg style="width:.4348em;height:.7391em" viewBox="0 0 10 17"><path d="M6.9 .4V17M6.9 .4L1.9 3.6"/></svg><svg style="width:.4348em;height:.7391em" viewBox="0 0 10 17"><path d="M6.9 .4V17M6.9 .4L1.9 3.6"/></svg>45</div>
<div class="t" style="top:1184.00px;font-size:23px;line-height:29px;-webkit-text-stroke:0.6px #f2f2f2;left:1719.00px;transform:scaleX(0.9300);transform-origin:0 0;">64<svg style="width:.913em;height:.7565em" viewBox="0 0 21 17.4"><ellipse cx="5.6" cy="4.8" rx="3.5" ry="3.8"/><ellipse cx="15.3" cy="12.9" rx="3.5" ry="3.8"/><path d="M4.6 17.2L16.1 .4"/></svg></div>
<div class="t" style="top:1184.00px;font-size:23px;line-height:29px;-webkit-text-stroke:0.6px #f2f2f2;left:1768.00px;transform:scaleX(0.9300);transform-origin:0 0;">0.39</div>
<div class="b" style="left:99px;top:1230px;width:61px;height:58px;background:#f8f8f8"></div>
<div class="b" style="left:162px;top:1230px;width:691px;height:58px;background:#f8f8f8"></div>
<div class="b" style="left:1596px;top:1230px;width:60px;height:58px;background:#f8f8f8"></div>
<div class="b" style="left:1658px;top:1230px;width:58px;height:58px;background:#f8f8f8"></div>
<div class="b" style="left:1718px;top:1230px;width:47px;height:58px;background:#f8f8f8"></div>
<div class="b" style="left:1767px;top:1230px;width:46px;height:58px;background:#f8f8f8"></div>
<div class="t" style="top:1244.00px;font-size:23px;line-height:29px;-webkit-text-stroke:0.6px #f8f8f8;left:78.70px;width:100px;text-align:center;transform:scaleX(0.9000);transform-origin:50% 0;"><svg style="width:.4348em;height:.7391em" viewBox="0 0 10 17"><path d="M6.9 .4V17M6.9 .4L1.9 3.6"/></svg>7.</div>
<div class="b" style="left:855px;top:1230px;width:60px;height:58px;background:#e0ffe0"></div>
<div class="t" style="top:1231.00px;font-size:23px;line-height:29px;-webkit-text-stroke:0.6px #e0ffe0;left:845.00px;width:80px;text-align:center;"><svg style="width:.5652em;height:.7391em" viewBox="0 0 13 17"><path d="M1 10.5H12.2M6.6 5V16"/></svg></div>
<div class="t" style="top:1260.00px;font-size:22.5px;line-height:28px;-webkit-text-stroke:0.6px #e0ffe0;left:845.00px;width:80px;text-align:center;transform:scaleX(0.9000);transform-origin:50% 0;">2:<svg style="width:.4348em;height:.7391em" viewBox="0 0 10 17"><path d="M6.9 .4V17M6.9 .4L1.9 3.6"/></svg>0</div>
<div class="b" style="left:917px;top:1230px;width:48px;height:58px;background:#f8f8f8"></div>
<div class="b" style="left:937px;top:1259px;width:7px;height:1px;background:#000"></div>
<div class="b" style="left:967px;top:1230px;width:71px;height:58px;background:#ffd0d0"></div>
<div class="t" style="top:1231.00px;font-size:23px;line-height:29px;-webkit-text-stroke:0.6px #ffd0d0;left:962.50px;width:80px;text-align:center;"><svg style="width:.3913em;height:.7391em" viewBox="0 0 9 17"><path d="M1 10.5H7.6"/></svg><svg style="width:.4348em;height:.7391em" viewBox="0 0 10 17"><path d="M6.9 .4V17M6.9 .4L1.9 3.6"/></svg><svg style="width:.4348em;height:.7391em" viewBox="0 0 10 17"><path d="M6.9 .4V17M6.9 .4L1.9 3.6"/></svg></div>
<div class="t" style="top:1260.00px;font-size:22.5px;line-height:28px;-webkit-text-stroke:0.6px #ffd0d0;left:962.50px;width:80px;text-align:center;transform:scaleX(0.9000);transform-origin:50% 0;">4:59</div>
<div class="b" style="left:1040px;top:1230px;width:48px;height:58px;background:#f8f8f8"></div>
<div class="b" style="left:1060px;top:1259px;width:7px;height:1px;background:#000"></div>
<div class="b" style="left:1090px;top:1230px;width:60px;height:58px;background:#e0ffe0"></div>
<div class="t" style="top:1231.00px;font-size:23px;line-height:29px;-webkit-text-stroke:0.6px #e0ffe0;left:1080.00px;width:80px;text-align:center;"><svg style="width:.5652em;height:.7391em" viewBox="0 0 13 17"><path d="M1 10.5H12.2M6.6 5V16"/></svg></div>
<div class="t" style="top:1260.00px;font-size:22.5px;line-height:28px;-webkit-text-stroke:0.6px #e0ffe0;left:1080.00px;width:80px;text-align:center;transform:scaleX(0.9000);transform-origin:50% 0;">3:<svg style="width:.4348em;height:.7391em" viewBox="0 0 10 17"><path d="M6.9 .4V17M6.9 .4L1.9 3.6"/></svg>0</div>
<div class="b" style="left:1152px;top:1230px;width:48px;height:58px;background:#f8f8f8"></div>
<div class="b" style="left:1172px;top:1259px;width:7px;height:1px;background:#000"></div>
<div class="b" style="left:1202px;top:1230px;width:60px;height:58px;background:#e0ffe0"></div>
<div class="t" style="top:1231.00px;font-size:23px;line-height:29px;-webkit-text-stroke:0.6px #e0ffe0;left:1192.00px;width:80px;text-align:center;"><svg style="width:.5652em;height:.7391em" viewBox="0 0 13 17"><path d="M1 10.5H12.2M6.6 5V16"/></svg>3</div>
<div class="t" style="top:1260.00px;font-size:22.5px;line-height:28px;-webkit-text-stroke:0.6px #e0ffe0;left:1192.00px;width:80px;text-align:center;transform:scaleX(0.9000);transform-origin:50% 0;">3:30</div>
<div class="b" style="left:1264px;top:1230px;width:60px;height:58px;background:#ffd0d0"></div>
<div class="t" style="top:1231.00px;font-size:23px;line-height:29px;-webkit-text-stroke:0.6px #ffd0d0;left:1254.00px;width:80px;text-align:center;"><svg style="width:.3913em;height:.7391em" viewBox="0 0 9 17"><path d="M1 10.5H7.6"/></svg><svg style="width:.4348em;height:.7391em" viewBox="0 0 10 17"><path d="M6.9 .4V17M6.9 .4L1.9 3.6"/></svg></div>
<div class="t" style="top:1260.00px;font-size:22.5px;line-height:28px;-webkit-text-stroke:0.6px #ffd0d0;left:1254.00px;width:80px;text-align:center;transform:scaleX(0.9000);transform-origin:50% 0;">4:40</div>
<div class="b" style="left:1326px;top:1230px;width:60px;height:58px;background:#f8f8f8"></div>
<div class="b" style="left:1352px;top:1259px;width:7px;height:1px;background:#000"></div>
<div class="b" style="left:1388px;top:1230px;width:71px;height:58px;background:#e0ffe0"></div>
<div class="t" style="top:1231.00px;font-size:23px;line-height:29px;-webkit-text-stroke:0.6px #e0ffe0;left:1383.50px;width:80px;text-align:center;"><svg style="width:.5652em;height:.7391em" viewBox="0 0 13 17"><path d="M1 10.5H12.2M6.6 5V16"/></svg>2</div>
<div class="t" style="top:1260.00px;font-size:22.5px;line-height:28px;-webkit-text-stroke:0.6px #e0ffe0;left:1383.50px;width:80px;text-align:center;transform:scaleX(0.9000);transform-origin:50% 0;">3:<svg style="width:.4348em;height:.7391em" viewBox="0 0 10 17"><path d="M6.9 .4V17M6.9 .4L1.9 3.6"/></svg>0</div>
<div class="b" style="left:1461px;top:1230px;width:71px;height:58px;background:#e0ffe0"></div>
<div class="t" style="top:1231.00px;font-size:23px;line-height:29px;-webkit-text-stroke:0.6px #e0ffe0;left:1456.50px;width:80px;text-align:center;"><svg style="width:.5652em;height:.7391em" viewBox="0 0 13 17"><path d="M1 10.5H12.2M6.6 5V16"/></svg><svg style="width:.4348em;height:.7391em" viewBox="0 0 10 17"><path d="M6.9 .4V17M6.9 .4L1.9 3.6"/></svg><svg style="width:.4348em;height:.7391em" viewBox="0 0 10 17"><path d="M6.9 .4V17M6.9 .4L1.9 3.6"/></svg></div>
<div class="t" style="top:1260.00px;font-size:22.5px;line-height:28px;-webkit-text-stroke:0.6px #e0ffe0;left:1456.50px;width:80px;text-align:center;transform:scaleX(0.9000);transform-origin:50% 0;">4:40</div>
<div class="b" style="left:1534px;top:1230px;width:60px;height:58px;background:#f8f8f8"></div>
<div class="b" style="left:1560px;top:1259px;width:7px;height:1px;background:#000"></div>
<div class="t" style="top:1244.00px;font-size:23px;line-height:29px;-webkit-text-stroke:0.6px #f8f8f8;left:1597.00px;transform:scaleX(0.9300);transform-origin:0 0;">5</div>
<div class="t" style="top:1244.00px;font-size:23px;line-height:29px;-webkit-text-stroke:0.6px #f8f8f8;left:1659.00px;transform:scaleX(0.9300);transform-origin:0 0;"><svg style="width:.4348em;height:.7391em" viewBox="0 0 10 17"><path d="M6.9 .4V17M6.9 .4L1.9 3.6"/></svg>200</div>
<div class="t" style="top:1244.00px;font-size:23px;line-height:29px;-webkit-text-stroke:0.6px #f8f8f8;left:1719.00px;transform:scaleX(0.9300);transform-origin:0 0;">50<svg style="width:.913em;height:.7565em" viewBox="0 0 21 17.4"><ellipse cx="5.6" cy="4.8" rx="3.5" ry="3.8"/><ellipse cx="15.3" cy="12.9" rx="3.5" ry="3.8"/><path d="M4.6 17.2L16.1 .4"/></svg></div>
<div class="t" style="top:1244.00px;font-size:23px;line-height:29px;-webkit-text-stroke:0.6px #f8f8f8;left:1768.00px;transform:scaleX(0.9300);transform-origin:0 0;">0.39</div>
<div class="t" style="top:22.00px;font-size:43px;line-height:54px;font-weight:700;left:745.28px;transform:scaleX(1.0099);transform-origin:0 0;">Petrozavodsk Day 5.</div>
<div class="t" style="top:110.00px;font-size:29px;line-height:36px;font-weight:700;left:628.89px;transform:scaleX(0.9114);transform-origin:0 0;">Last success:</div>
<div class="t" style="top:110.00px;font-size:29px;line-height:36px;-webkit-text-stroke:0.6px #fff;left:811.06px;transform:scaleX(0.9408);transform-origin:0 0;">04:59:58, Reserved Login <svg style="width:.4348em;height:.7391em" viewBox="0 0 10 17"><path d="M6.9 .4V17M6.9 .4L1.9 3.6"/></svg>, problem K</div>
<div class="t" style="top:146.00px;font-size:29px;line-height:36px;-webkit-text-stroke:0.6px #fff;left:642.12px;transform:scaleX(0.9409);transform-origin:0 0;">Last submit: 04:59:58, Reserved Login <svg style="width:.4348em;height:.7391em" viewBox="0 0 10 17"><path d="M6.9 .4V17M6.9 .4L1.9 3.6"/></svg>, problem K</div>
<div class="t" style="top:226.00px;font-size:23px;line-height:29px;font-weight:700;left:100.95px;transform:scaleX(0.9483);transform-origin:0 0;">Place</div>
<div class="t" style="top:226.00px;font-size:23px;line-height:29px;font-weight:700;left:442.70px;transform:scaleX(1.0342);transform-origin:0 0;">Team name</div>
<div class="t" style="top:226.00px;font-size:23px;line-height:29px;font-weight:700;left:1597.80px;transform:scaleX(1.0551);transform-origin:0 0;">Total</div>
<div class="t" style="top:226.00px;font-size:23px;line-height:29px;font-weight:700;left:1659.80px;transform:scaleX(1.0157);transform-origin:0 0;">Time</div>
<div class="t" style="top:226.00px;font-size:23px;line-height:29px;font-weight:700;left:1720.58px;transform:scaleX(1.0218);transform-origin:0 0;">Dirt</div>
<div class="t" style="top:226.00px;font-size:23px;line-height:29px;font-weight:700;left:1777.10px;transform:scaleX(0.8174);transform-origin:0 0;">SE</div>
<div class="t" style="top:284.00px;font-size:23px;line-height:29px;-webkit-text-stroke:0.6px #e0e0ff;left:162.59px;transform:scaleX(0.9145);transform-origin:0 0;">Seoul NU (Jo, Park, Si)</div>
<div class="t" style="top:344.00px;font-size:23px;line-height:29px;-webkit-text-stroke:0.6px #e8e8ff;left:162.55px;transform:scaleX(0.9469);transform-origin:0 0;">NNSU: Almost Retired (Danilyuk, Kalinin, Krapivin)</div>
<div class="t" style="top:404.00px;font-size:23px;line-height:29px;-webkit-text-stroke:0.6px #f8f8f8;left:162.52px;transform:scaleX(0.9773);transform-origin:0 0;">Coach/Guest Login <svg style="width:.4348em;height:.7391em" viewBox="0 0 10 17"><path d="M6.9 .4V17M6.9 .4L1.9 3.6"/></svg></div>
<div class="t" style="top:464.00px;font-size:23px;line-height:29px;-webkit-text-stroke:0.6px #f2f2f2;left:162.56px;transform:scaleX(0.9436);transform-origin:0 0;">SPb ITMO University <svg style="width:.4348em;height:.7391em" viewBox="0 0 10 17"><path d="M6.9 .4V17M6.9 .4L1.9 3.6"/></svg> (Budin, Kirillov, Sayutin)</div>
<div class="t" style="top:524.00px;font-size:23px;line-height:29px;-webkit-text-stroke:0.6px #f8f8f8;left:162.55px;transform:scaleX(0.9499);transform-origin:0 0;">Spb SU <svg style="width:.4348em;height:.7391em" viewBox="0 0 10 17"><path d="M6.9 .4V17M6.9 .4L1.9 3.6"/></svg> (Bochkov, Gaevoy, Makarov)</div>
<div class="t" style="top:584.00px;font-size:23px;line-height:29px;-webkit-text-stroke:0.6px #f2f2f2;left:162.54px;transform:scaleX(0.9575);transform-origin:0 0;">Kazan+SPb (Gainullin, Morozov, Rakhmatullin)</div>
<div class="t" style="top:644.00px;font-size:23px;line-height:29px;-webkit-text-stroke:0.6px #e0e0ff;left:162.56px;transform:scaleX(0.9443);transform-origin:0 0;">SPb br of NRU HSE: Abstract University (Babushkin, Makhnev, Surkov)</div>
<div class="t" style="top:704.00px;font-size:23px;line-height:29px;-webkit-text-stroke:0.6px #e8e8ff;left:162.56px;transform:scaleX(0.9359);transform-origin:0 0;">Kharkiv NU of RE: NRG (Aslandukov, Shanin, Vallas)</div>
<div class="t" style="top:764.00px;font-size:23px;line-height:29px;-webkit-text-stroke:0.6px #e0e0ff;left:162.57px;transform:scaleX(0.9261);transform-origin:0 0;">Latvia U (Zajakins, Zajakins, Čivkulis)</div>
<div class="t" style="top:824.00px;font-size:23px;line-height:29px;-webkit-text-stroke:0.6px #e8e8ff;left:162.57px;transform:scaleX(0.9339);transform-origin:0 0;">Belarusian SU 2 (Gulin, Kim, Lukyanov)</div>
<div class="t" style="top:884.00px;font-size:23px;line-height:29px;-webkit-text-stroke:0.6px #f0c0a0;left:163.50px;transform:scaleX(0.9592);transform-origin:0 0;">Zhejiang U: Runespoor (Li Yankui, Lv Yaowei, Zhang Qingqi)</div>
<div class="t" style="top:944.00px;font-size:23px;line-height:29px;-webkit-text-stroke:0.6px #e8e8ff;left:162.53px;transform:scaleX(0.9714);transform-origin:0 0;">Moscow IPT: Good game (Golovanov, Machula)</div>
<div class="t" style="top:1004.00px;font-size:23px;line-height:29px;-webkit-text-stroke:0.6px #f8f8f8;left:162.58px;transform:scaleX(0.9222);transform-origin:0 0;">SCH_Moscow AESC (Lifar, Savkin, Shekhovtsov)</div>
<div class="t" style="top:1064.00px;font-size:23px;line-height:29px;-webkit-text-stroke:0.6px #f2f2f2;left:162.54px;transform:scaleX(0.9576);transform-origin:0 0;">Kyiv NU: Bad Team for Chinese (Mikhno, Smelskiy, Trygub)</div>
<div class="t" style="top:1124.00px;font-size:23px;line-height:29px;-webkit-text-stroke:0.6px #f8f8f8;left:162.55px;transform:scaleX(0.9495);transform-origin:0 0;">Belarusian SU <svg style="width:.4348em;height:.7391em" viewBox="0 0 10 17"><path d="M6.9 .4V17M6.9 .4L1.9 3.6"/></svg> (Dubovik, Kernozhitsky, Korobeinikov)</div>
<div class="t" style="top:1184.00px;font-size:23px;line-height:29px;-webkit-text-stroke:0.6px #f2f2f2;left:162.54px;transform:scaleX(0.9612);transform-origin:0 0;">Moscow IPT: zzzzz (Gaponov, Kulkov, Zgurskiy)</div>
<div class="t" style="top:1244.00px;font-size:23px;line-height:29px;-webkit-text-stroke:0.6px #f8f8f8;left:162.48px;transform:scaleX(1.0166);transform-origin:0 0;">Moscow SU Trinity (Fedorov, Kalinin, Sivolgin)</div>
</body></html>
